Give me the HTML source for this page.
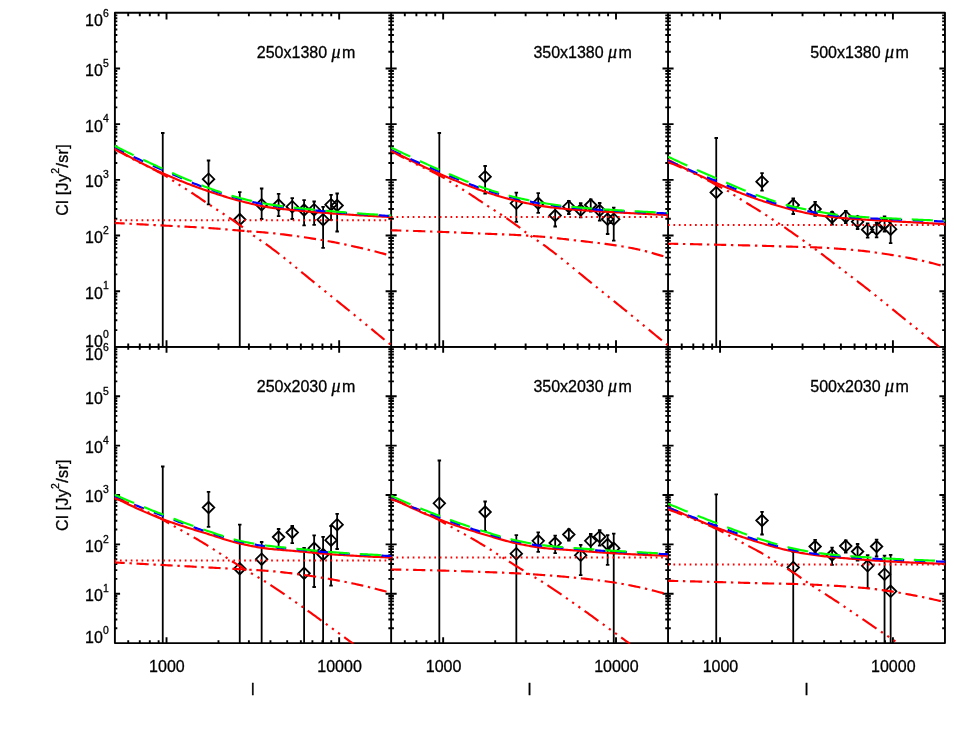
<!DOCTYPE html>
<html><head><meta charset="utf-8"><title>Cl cross spectra</title>
<style>html,body{margin:0;padding:0;background:#fff}body{width:954px;height:740px;overflow:hidden}</style>
</head><body>
<svg width="954" height="740" viewBox="0 0 954 740" style="display:block;will-change:transform">
<rect width="954" height="740" fill="#fff"/>
<defs>
<clipPath id="cp00"><rect x="114.55" y="12.8" width="277.18" height="334.65"/></clipPath>
<clipPath id="cp01"><rect x="391.13" y="12.8" width="277.51" height="334.65"/></clipPath>
<clipPath id="cp02"><rect x="668.04" y="12.8" width="277.51" height="334.65"/></clipPath>
<clipPath id="cp10"><rect x="114.55" y="346.85" width="277.18" height="296.85"/></clipPath>
<clipPath id="cp11"><rect x="391.13" y="346.85" width="277.51" height="296.85"/></clipPath>
<clipPath id="cp12"><rect x="668.04" y="346.85" width="277.51" height="296.85"/></clipPath>
</defs>
<g stroke="#000" stroke-width="1.9" fill="none" stroke-linecap="butt">
<rect x="114.9" y="12.8" width="830.05" height="334.05" stroke-linejoin="round"/>
<path d="M391.13 12.8 V346.85"/>
<path d="M668.04 12.8 V346.85"/>
<rect x="114.9" y="346.85" width="830.05" height="296.25" stroke-linejoin="round"/>
<path d="M391.13 346.85 V643.1"/>
<path d="M668.04 346.85 V643.1"/>
<path d="M128.22 346.85v-3.34M128.22 12.8v3.34M139.78 346.85v-3.34M139.78 12.8v3.34M149.79 346.85v-3.34M149.79 12.8v3.34M158.62 346.85v-3.34M158.62 12.8v3.34M166.52 346.85v-6.68M166.52 12.8v6.68M218.49 346.85v-3.34M218.49 12.8v3.34M248.89 346.85v-3.34M248.89 12.8v3.34M270.46 346.85v-3.34M270.46 12.8v3.34M287.19 346.85v-3.34M287.19 12.8v3.34M300.86 346.85v-3.34M300.86 12.8v3.34M312.42 346.85v-3.34M312.42 12.8v3.34M322.43 346.85v-3.34M322.43 12.8v3.34M331.26 346.85v-3.34M331.26 12.8v3.34M339.16 346.85v-6.68M339.16 12.8v6.68M114.55 330.09h2.77M391.13 330.09h-2.77M114.55 320.29h2.77M391.13 320.29h-2.77M114.55 313.33h2.77M391.13 313.33h-2.77M114.55 307.93h2.77M391.13 307.93h-2.77M114.55 303.53h2.77M391.13 303.53h-2.77M114.55 299.8h2.77M391.13 299.8h-2.77M114.55 296.57h2.77M391.13 296.57h-2.77M114.55 293.72h2.77M391.13 293.72h-2.77M114.55 291.18h5.53M391.13 291.18h-5.53M114.55 274.42h2.77M391.13 274.42h-2.77M114.55 264.61h2.77M391.13 264.61h-2.77M114.55 257.66h2.77M391.13 257.66h-2.77M114.55 252.26h2.77M391.13 252.26h-2.77M114.55 247.85h2.77M391.13 247.85h-2.77M114.55 244.12h2.77M391.13 244.12h-2.77M114.55 240.9h2.77M391.13 240.9h-2.77M114.55 238.05h2.77M391.13 238.05h-2.77M114.55 235.5h5.53M391.13 235.5h-5.53M114.55 218.74h2.77M391.13 218.74h-2.77M114.55 208.94h2.77M391.13 208.94h-2.77M114.55 201.98h2.77M391.13 201.98h-2.77M114.55 196.58h2.77M391.13 196.58h-2.77M114.55 192.18h2.77M391.13 192.18h-2.77M114.55 188.45h2.77M391.13 188.45h-2.77M114.55 185.22h2.77M391.13 185.22h-2.77M114.55 182.37h2.77M391.13 182.37h-2.77M114.55 179.83h5.53M391.13 179.83h-5.53M114.55 163.07h2.77M391.13 163.07h-2.77M114.55 153.26h2.77M391.13 153.26h-2.77M114.55 146.31h2.77M391.13 146.31h-2.77M114.55 140.91h2.77M391.13 140.91h-2.77M114.55 136.5h2.77M391.13 136.5h-2.77M114.55 132.77h2.77M391.13 132.77h-2.77M114.55 129.55h2.77M391.13 129.55h-2.77M114.55 126.7h2.77M391.13 126.7h-2.77M114.55 124.15h5.53M391.13 124.15h-5.53M114.55 107.39h2.77M391.13 107.39h-2.77M114.55 97.59h2.77M391.13 97.59h-2.77M114.55 90.63h2.77M391.13 90.63h-2.77M114.55 85.23h2.77M391.13 85.23h-2.77M114.55 80.83h2.77M391.13 80.83h-2.77M114.55 77.1h2.77M391.13 77.1h-2.77M114.55 73.87h2.77M391.13 73.87h-2.77M114.55 71.02h2.77M391.13 71.02h-2.77M114.55 68.48h5.53M391.13 68.48h-5.53M114.55 51.72h2.77M391.13 51.72h-2.77M114.55 41.91h2.77M391.13 41.91h-2.77M114.55 34.96h2.77M391.13 34.96h-2.77M114.55 29.56h2.77M391.13 29.56h-2.77M114.55 25.15h2.77M391.13 25.15h-2.77M114.55 21.42h2.77M391.13 21.42h-2.77M114.55 18.2h2.77M391.13 18.2h-2.77M114.55 15.35h2.77M391.13 15.35h-2.77M404.82 346.85v-3.34M404.82 12.8v3.34M416.39 346.85v-3.34M416.39 12.8v3.34M426.41 346.85v-3.34M426.41 12.8v3.34M435.25 346.85v-3.34M435.25 12.8v3.34M443.16 346.85v-6.68M443.16 12.8v6.68M495.19 346.85v-3.34M495.19 12.8v3.34M525.63 346.85v-3.34M525.63 12.8v3.34M547.23 346.85v-3.34M547.23 12.8v3.34M563.98 346.85v-3.34M563.98 12.8v3.34M577.66 346.85v-3.34M577.66 12.8v3.34M589.23 346.85v-3.34M589.23 12.8v3.34M599.26 346.85v-3.34M599.26 12.8v3.34M608.1 346.85v-3.34M608.1 12.8v3.34M616.01 346.85v-6.68M616.01 12.8v6.68M391.13 330.09h2.77M668.04 330.09h-2.77M391.13 320.29h2.77M668.04 320.29h-2.77M391.13 313.33h2.77M668.04 313.33h-2.77M391.13 307.93h2.77M668.04 307.93h-2.77M391.13 303.53h2.77M668.04 303.53h-2.77M391.13 299.8h2.77M668.04 299.8h-2.77M391.13 296.57h2.77M668.04 296.57h-2.77M391.13 293.72h2.77M668.04 293.72h-2.77M391.13 291.18h5.54M668.04 291.18h-5.54M391.13 274.42h2.77M668.04 274.42h-2.77M391.13 264.61h2.77M668.04 264.61h-2.77M391.13 257.66h2.77M668.04 257.66h-2.77M391.13 252.26h2.77M668.04 252.26h-2.77M391.13 247.85h2.77M668.04 247.85h-2.77M391.13 244.12h2.77M668.04 244.12h-2.77M391.13 240.9h2.77M668.04 240.9h-2.77M391.13 238.05h2.77M668.04 238.05h-2.77M391.13 235.5h5.54M668.04 235.5h-5.54M391.13 218.74h2.77M668.04 218.74h-2.77M391.13 208.94h2.77M668.04 208.94h-2.77M391.13 201.98h2.77M668.04 201.98h-2.77M391.13 196.58h2.77M668.04 196.58h-2.77M391.13 192.18h2.77M668.04 192.18h-2.77M391.13 188.45h2.77M668.04 188.45h-2.77M391.13 185.22h2.77M668.04 185.22h-2.77M391.13 182.37h2.77M668.04 182.37h-2.77M391.13 179.83h5.54M668.04 179.83h-5.54M391.13 163.07h2.77M668.04 163.07h-2.77M391.13 153.26h2.77M668.04 153.26h-2.77M391.13 146.31h2.77M668.04 146.31h-2.77M391.13 140.91h2.77M668.04 140.91h-2.77M391.13 136.5h2.77M668.04 136.5h-2.77M391.13 132.77h2.77M668.04 132.77h-2.77M391.13 129.55h2.77M668.04 129.55h-2.77M391.13 126.7h2.77M668.04 126.7h-2.77M391.13 124.15h5.54M668.04 124.15h-5.54M391.13 107.39h2.77M668.04 107.39h-2.77M391.13 97.59h2.77M668.04 97.59h-2.77M391.13 90.63h2.77M668.04 90.63h-2.77M391.13 85.23h2.77M668.04 85.23h-2.77M391.13 80.83h2.77M668.04 80.83h-2.77M391.13 77.1h2.77M668.04 77.1h-2.77M391.13 73.87h2.77M668.04 73.87h-2.77M391.13 71.02h2.77M668.04 71.02h-2.77M391.13 68.48h5.54M668.04 68.48h-5.54M391.13 51.72h2.77M668.04 51.72h-2.77M391.13 41.91h2.77M668.04 41.91h-2.77M391.13 34.96h2.77M668.04 34.96h-2.77M391.13 29.56h2.77M668.04 29.56h-2.77M391.13 25.15h2.77M668.04 25.15h-2.77M391.13 21.42h2.77M668.04 21.42h-2.77M391.13 18.2h2.77M668.04 18.2h-2.77M391.13 15.35h2.77M668.04 15.35h-2.77M681.73 346.85v-3.34M681.73 12.8v3.34M693.3 346.85v-3.34M693.3 12.8v3.34M703.32 346.85v-3.34M703.32 12.8v3.34M712.16 346.85v-3.34M712.16 12.8v3.34M720.07 346.85v-6.68M720.07 12.8v6.68M772.1 346.85v-3.34M772.1 12.8v3.34M802.54 346.85v-3.34M802.54 12.8v3.34M824.14 346.85v-3.34M824.14 12.8v3.34M840.89 346.85v-3.34M840.89 12.8v3.34M854.57 346.85v-3.34M854.57 12.8v3.34M866.14 346.85v-3.34M866.14 12.8v3.34M876.17 346.85v-3.34M876.17 12.8v3.34M885.01 346.85v-3.34M885.01 12.8v3.34M892.92 346.85v-6.68M892.92 12.8v6.68M668.04 330.09h2.77M944.95 330.09h-2.77M668.04 320.29h2.77M944.95 320.29h-2.77M668.04 313.33h2.77M944.95 313.33h-2.77M668.04 307.93h2.77M944.95 307.93h-2.77M668.04 303.53h2.77M944.95 303.53h-2.77M668.04 299.8h2.77M944.95 299.8h-2.77M668.04 296.57h2.77M944.95 296.57h-2.77M668.04 293.72h2.77M944.95 293.72h-2.77M668.04 291.18h5.54M944.95 291.18h-5.54M668.04 274.42h2.77M944.95 274.42h-2.77M668.04 264.61h2.77M944.95 264.61h-2.77M668.04 257.66h2.77M944.95 257.66h-2.77M668.04 252.26h2.77M944.95 252.26h-2.77M668.04 247.85h2.77M944.95 247.85h-2.77M668.04 244.12h2.77M944.95 244.12h-2.77M668.04 240.9h2.77M944.95 240.9h-2.77M668.04 238.05h2.77M944.95 238.05h-2.77M668.04 235.5h5.54M944.95 235.5h-5.54M668.04 218.74h2.77M944.95 218.74h-2.77M668.04 208.94h2.77M944.95 208.94h-2.77M668.04 201.98h2.77M944.95 201.98h-2.77M668.04 196.58h2.77M944.95 196.58h-2.77M668.04 192.18h2.77M944.95 192.18h-2.77M668.04 188.45h2.77M944.95 188.45h-2.77M668.04 185.22h2.77M944.95 185.22h-2.77M668.04 182.37h2.77M944.95 182.37h-2.77M668.04 179.83h5.54M944.95 179.83h-5.54M668.04 163.07h2.77M944.95 163.07h-2.77M668.04 153.26h2.77M944.95 153.26h-2.77M668.04 146.31h2.77M944.95 146.31h-2.77M668.04 140.91h2.77M944.95 140.91h-2.77M668.04 136.5h2.77M944.95 136.5h-2.77M668.04 132.77h2.77M944.95 132.77h-2.77M668.04 129.55h2.77M944.95 129.55h-2.77M668.04 126.7h2.77M944.95 126.7h-2.77M668.04 124.15h5.54M944.95 124.15h-5.54M668.04 107.39h2.77M944.95 107.39h-2.77M668.04 97.59h2.77M944.95 97.59h-2.77M668.04 90.63h2.77M944.95 90.63h-2.77M668.04 85.23h2.77M944.95 85.23h-2.77M668.04 80.83h2.77M944.95 80.83h-2.77M668.04 77.1h2.77M944.95 77.1h-2.77M668.04 73.87h2.77M944.95 73.87h-2.77M668.04 71.02h2.77M944.95 71.02h-2.77M668.04 68.48h5.54M944.95 68.48h-5.54M668.04 51.72h2.77M944.95 51.72h-2.77M668.04 41.91h2.77M944.95 41.91h-2.77M668.04 34.96h2.77M944.95 34.96h-2.77M668.04 29.56h2.77M944.95 29.56h-2.77M668.04 25.15h2.77M944.95 25.15h-2.77M668.04 21.42h2.77M944.95 21.42h-2.77M668.04 18.2h2.77M944.95 18.2h-2.77M668.04 15.35h2.77M944.95 15.35h-2.77M128.22 643.1v-2.96M128.22 346.85v2.96M139.78 643.1v-2.96M139.78 346.85v2.96M149.79 643.1v-2.96M149.79 346.85v2.96M158.62 643.1v-2.96M158.62 346.85v2.96M166.52 643.1v-5.92M166.52 346.85v5.92M218.49 643.1v-2.96M218.49 346.85v2.96M248.89 643.1v-2.96M248.89 346.85v2.96M270.46 643.1v-2.96M270.46 346.85v2.96M287.19 643.1v-2.96M287.19 346.85v2.96M300.86 643.1v-2.96M300.86 346.85v2.96M312.42 643.1v-2.96M312.42 346.85v2.96M322.43 643.1v-2.96M322.43 346.85v2.96M331.26 643.1v-2.96M331.26 346.85v2.96M339.16 643.1v-5.92M339.16 346.85v5.92M114.55 628.24h2.77M391.13 628.24h-2.77M114.55 619.54h2.77M391.13 619.54h-2.77M114.55 613.37h2.77M391.13 613.37h-2.77M114.55 608.59h2.77M391.13 608.59h-2.77M114.55 604.68h2.77M391.13 604.68h-2.77M114.55 601.37h2.77M391.13 601.37h-2.77M114.55 598.51h2.77M391.13 598.51h-2.77M114.55 595.98h2.77M391.13 595.98h-2.77M114.55 593.73h5.53M391.13 593.73h-5.53M114.55 578.86h2.77M391.13 578.86h-2.77M114.55 570.17h2.77M391.13 570.17h-2.77M114.55 564h2.77M391.13 564h-2.77M114.55 559.21h2.77M391.13 559.21h-2.77M114.55 555.3h2.77M391.13 555.3h-2.77M114.55 552h2.77M391.13 552h-2.77M114.55 549.13h2.77M391.13 549.13h-2.77M114.55 546.61h2.77M391.13 546.61h-2.77M114.55 544.35h5.53M391.13 544.35h-5.53M114.55 529.49h2.77M391.13 529.49h-2.77M114.55 520.79h2.77M391.13 520.79h-2.77M114.55 514.62h2.77M391.13 514.62h-2.77M114.55 509.84h2.77M391.13 509.84h-2.77M114.55 505.93h2.77M391.13 505.93h-2.77M114.55 502.62h2.77M391.13 502.62h-2.77M114.55 499.76h2.77M391.13 499.76h-2.77M114.55 497.23h2.77M391.13 497.23h-2.77M114.55 494.98h5.53M391.13 494.98h-5.53M114.55 480.11h2.77M391.13 480.11h-2.77M114.55 471.42h2.77M391.13 471.42h-2.77M114.55 465.25h2.77M391.13 465.25h-2.77M114.55 460.46h2.77M391.13 460.46h-2.77M114.55 456.55h2.77M391.13 456.55h-2.77M114.55 453.25h2.77M391.13 453.25h-2.77M114.55 450.38h2.77M391.13 450.38h-2.77M114.55 447.86h2.77M391.13 447.86h-2.77M114.55 445.6h5.53M391.13 445.6h-5.53M114.55 430.74h2.77M391.13 430.74h-2.77M114.55 422.04h2.77M391.13 422.04h-2.77M114.55 415.87h2.77M391.13 415.87h-2.77M114.55 411.09h2.77M391.13 411.09h-2.77M114.55 407.18h2.77M391.13 407.18h-2.77M114.55 403.87h2.77M391.13 403.87h-2.77M114.55 401.01h2.77M391.13 401.01h-2.77M114.55 398.48h2.77M391.13 398.48h-2.77M114.55 396.23h5.53M391.13 396.23h-5.53M114.55 381.36h2.77M391.13 381.36h-2.77M114.55 372.67h2.77M391.13 372.67h-2.77M114.55 366.5h2.77M391.13 366.5h-2.77M114.55 361.71h2.77M391.13 361.71h-2.77M114.55 357.8h2.77M391.13 357.8h-2.77M114.55 354.5h2.77M391.13 354.5h-2.77M114.55 351.63h2.77M391.13 351.63h-2.77M114.55 349.11h2.77M391.13 349.11h-2.77M404.82 643.1v-2.96M404.82 346.85v2.96M416.39 643.1v-2.96M416.39 346.85v2.96M426.41 643.1v-2.96M426.41 346.85v2.96M435.25 643.1v-2.96M435.25 346.85v2.96M443.16 643.1v-5.92M443.16 346.85v5.92M495.19 643.1v-2.96M495.19 346.85v2.96M525.63 643.1v-2.96M525.63 346.85v2.96M547.23 643.1v-2.96M547.23 346.85v2.96M563.98 643.1v-2.96M563.98 346.85v2.96M577.66 643.1v-2.96M577.66 346.85v2.96M589.23 643.1v-2.96M589.23 346.85v2.96M599.26 643.1v-2.96M599.26 346.85v2.96M608.1 643.1v-2.96M608.1 346.85v2.96M616.01 643.1v-5.92M616.01 346.85v5.92M391.13 628.24h2.77M668.04 628.24h-2.77M391.13 619.54h2.77M668.04 619.54h-2.77M391.13 613.37h2.77M668.04 613.37h-2.77M391.13 608.59h2.77M668.04 608.59h-2.77M391.13 604.68h2.77M668.04 604.68h-2.77M391.13 601.37h2.77M668.04 601.37h-2.77M391.13 598.51h2.77M668.04 598.51h-2.77M391.13 595.98h2.77M668.04 595.98h-2.77M391.13 593.73h5.54M668.04 593.73h-5.54M391.13 578.86h2.77M668.04 578.86h-2.77M391.13 570.17h2.77M668.04 570.17h-2.77M391.13 564h2.77M668.04 564h-2.77M391.13 559.21h2.77M668.04 559.21h-2.77M391.13 555.3h2.77M668.04 555.3h-2.77M391.13 552h2.77M668.04 552h-2.77M391.13 549.13h2.77M668.04 549.13h-2.77M391.13 546.61h2.77M668.04 546.61h-2.77M391.13 544.35h5.54M668.04 544.35h-5.54M391.13 529.49h2.77M668.04 529.49h-2.77M391.13 520.79h2.77M668.04 520.79h-2.77M391.13 514.62h2.77M668.04 514.62h-2.77M391.13 509.84h2.77M668.04 509.84h-2.77M391.13 505.93h2.77M668.04 505.93h-2.77M391.13 502.62h2.77M668.04 502.62h-2.77M391.13 499.76h2.77M668.04 499.76h-2.77M391.13 497.23h2.77M668.04 497.23h-2.77M391.13 494.98h5.54M668.04 494.98h-5.54M391.13 480.11h2.77M668.04 480.11h-2.77M391.13 471.42h2.77M668.04 471.42h-2.77M391.13 465.25h2.77M668.04 465.25h-2.77M391.13 460.46h2.77M668.04 460.46h-2.77M391.13 456.55h2.77M668.04 456.55h-2.77M391.13 453.25h2.77M668.04 453.25h-2.77M391.13 450.38h2.77M668.04 450.38h-2.77M391.13 447.86h2.77M668.04 447.86h-2.77M391.13 445.6h5.54M668.04 445.6h-5.54M391.13 430.74h2.77M668.04 430.74h-2.77M391.13 422.04h2.77M668.04 422.04h-2.77M391.13 415.87h2.77M668.04 415.87h-2.77M391.13 411.09h2.77M668.04 411.09h-2.77M391.13 407.18h2.77M668.04 407.18h-2.77M391.13 403.87h2.77M668.04 403.87h-2.77M391.13 401.01h2.77M668.04 401.01h-2.77M391.13 398.48h2.77M668.04 398.48h-2.77M391.13 396.23h5.54M668.04 396.23h-5.54M391.13 381.36h2.77M668.04 381.36h-2.77M391.13 372.67h2.77M668.04 372.67h-2.77M391.13 366.5h2.77M668.04 366.5h-2.77M391.13 361.71h2.77M668.04 361.71h-2.77M391.13 357.8h2.77M668.04 357.8h-2.77M391.13 354.5h2.77M668.04 354.5h-2.77M391.13 351.63h2.77M668.04 351.63h-2.77M391.13 349.11h2.77M668.04 349.11h-2.77M681.73 643.1v-2.96M681.73 346.85v2.96M693.3 643.1v-2.96M693.3 346.85v2.96M703.32 643.1v-2.96M703.32 346.85v2.96M712.16 643.1v-2.96M712.16 346.85v2.96M720.07 643.1v-5.92M720.07 346.85v5.92M772.1 643.1v-2.96M772.1 346.85v2.96M802.54 643.1v-2.96M802.54 346.85v2.96M824.14 643.1v-2.96M824.14 346.85v2.96M840.89 643.1v-2.96M840.89 346.85v2.96M854.57 643.1v-2.96M854.57 346.85v2.96M866.14 643.1v-2.96M866.14 346.85v2.96M876.17 643.1v-2.96M876.17 346.85v2.96M885.01 643.1v-2.96M885.01 346.85v2.96M892.92 643.1v-5.92M892.92 346.85v5.92M668.04 628.24h2.77M944.95 628.24h-2.77M668.04 619.54h2.77M944.95 619.54h-2.77M668.04 613.37h2.77M944.95 613.37h-2.77M668.04 608.59h2.77M944.95 608.59h-2.77M668.04 604.68h2.77M944.95 604.68h-2.77M668.04 601.37h2.77M944.95 601.37h-2.77M668.04 598.51h2.77M944.95 598.51h-2.77M668.04 595.98h2.77M944.95 595.98h-2.77M668.04 593.73h5.54M944.95 593.73h-5.54M668.04 578.86h2.77M944.95 578.86h-2.77M668.04 570.17h2.77M944.95 570.17h-2.77M668.04 564h2.77M944.95 564h-2.77M668.04 559.21h2.77M944.95 559.21h-2.77M668.04 555.3h2.77M944.95 555.3h-2.77M668.04 552h2.77M944.95 552h-2.77M668.04 549.13h2.77M944.95 549.13h-2.77M668.04 546.61h2.77M944.95 546.61h-2.77M668.04 544.35h5.54M944.95 544.35h-5.54M668.04 529.49h2.77M944.95 529.49h-2.77M668.04 520.79h2.77M944.95 520.79h-2.77M668.04 514.62h2.77M944.95 514.62h-2.77M668.04 509.84h2.77M944.95 509.84h-2.77M668.04 505.93h2.77M944.95 505.93h-2.77M668.04 502.62h2.77M944.95 502.62h-2.77M668.04 499.76h2.77M944.95 499.76h-2.77M668.04 497.23h2.77M944.95 497.23h-2.77M668.04 494.98h5.54M944.95 494.98h-5.54M668.04 480.11h2.77M944.95 480.11h-2.77M668.04 471.42h2.77M944.95 471.42h-2.77M668.04 465.25h2.77M944.95 465.25h-2.77M668.04 460.46h2.77M944.95 460.46h-2.77M668.04 456.55h2.77M944.95 456.55h-2.77M668.04 453.25h2.77M944.95 453.25h-2.77M668.04 450.38h2.77M944.95 450.38h-2.77M668.04 447.86h2.77M944.95 447.86h-2.77M668.04 445.6h5.54M944.95 445.6h-5.54M668.04 430.74h2.77M944.95 430.74h-2.77M668.04 422.04h2.77M944.95 422.04h-2.77M668.04 415.87h2.77M944.95 415.87h-2.77M668.04 411.09h2.77M944.95 411.09h-2.77M668.04 407.18h2.77M944.95 407.18h-2.77M668.04 403.87h2.77M944.95 403.87h-2.77M668.04 401.01h2.77M944.95 401.01h-2.77M668.04 398.48h2.77M944.95 398.48h-2.77M668.04 396.23h5.54M944.95 396.23h-5.54M668.04 381.36h2.77M944.95 381.36h-2.77M668.04 372.67h2.77M944.95 372.67h-2.77M668.04 366.5h2.77M944.95 366.5h-2.77M668.04 361.71h2.77M944.95 361.71h-2.77M668.04 357.8h2.77M944.95 357.8h-2.77M668.04 354.5h2.77M944.95 354.5h-2.77M668.04 351.63h2.77M944.95 351.63h-2.77M668.04 349.11h2.77M944.95 349.11h-2.77"/>
</g>
<g clip-path="url(#cp00)" stroke="#000" fill="none">
<path stroke-width="1.8" d="M162.75 132.8V346.85M161 133h3.5M208.55 160.3V204.5M206.8 160.5h3.5M206.8 204.3h3.5M239.75 192V346.85M238 192.2h3.5M261.65 188.3V219.2M259.9 188.5h3.5M259.9 219h3.5M278.6 193.7V216.3M276.85 193.9h3.5M276.85 216.1h3.5M292.25 198V219.2M290.5 198.2h3.5M290.5 219h3.5M304.1 200V225.5M302.35 200.2h3.5M302.35 225.3h3.5M314.15 201.3V225M312.4 201.5h3.5M312.4 224.8h3.5M323.1 206.7V248M321.35 206.9h3.5M321.35 247.8h3.5M331.05 194.7V220M329.3 194.9h3.5M329.3 219.8h3.5M337.15 193.3V231.7M335.4 193.5h3.5M335.4 231.5h3.5"/>
<path stroke-width="1.8" stroke-linejoin="miter" d="M202.8 179.2L208.55 173.45L214.3 179.2L208.55 184.95ZM234 219.5L239.75 213.75L245.5 219.5L239.75 225.25ZM255.9 204.7L261.65 198.95L267.4 204.7L261.65 210.45ZM272.85 205L278.6 199.25L284.35 205L278.6 210.75ZM286.5 206.7L292.25 200.95L298 206.7L292.25 212.45ZM298.35 210L304.1 204.25L309.85 210L304.1 215.75ZM308.4 209.7L314.15 203.95L319.9 209.7L314.15 215.45ZM317.35 219.7L323.1 213.95L328.85 219.7L323.1 225.45ZM325.3 204.7L331.05 198.95L336.8 204.7L331.05 210.45ZM331.4 205.5L337.15 199.75L342.9 205.5L337.15 211.25Z"/>
</g>
<g clip-path="url(#cp01)" stroke="#000" fill="none">
<path stroke-width="1.8" d="M439.33 132.8V346.85M437.58 133h3.5M485.13 165.8V193.7M483.38 166h3.5M483.38 193.5h3.5M516.33 192.5V222M514.58 192.7h3.5M514.58 221.8h3.5M538.23 193V213M536.48 193.2h3.5M536.48 212.8h3.5M555.18 206.5V226.7M553.43 206.7h3.5M553.43 226.5h3.5M568.83 200.8V214.2M567.08 201h3.5M567.08 214h3.5M580.68 203V217.5M578.93 203.2h3.5M578.93 217.3h3.5M590.73 199.2V211.7M588.98 199.4h3.5M588.98 211.5h3.5M599.68 202.8V220.8M597.93 203h3.5M597.93 220.6h3.5M607.63 210.8V234.2M605.88 211h3.5M605.88 234h3.5M613.73 207.5V240.8M611.98 207.7h3.5M611.98 240.6h3.5"/>
<path stroke-width="1.8" stroke-linejoin="miter" d="M479.38 176.7L485.13 170.95L490.88 176.7L485.13 182.45ZM510.58 203.3L516.33 197.55L522.08 203.3L516.33 209.05ZM532.48 203.3L538.23 197.55L543.98 203.3L538.23 209.05ZM549.43 215.5L555.18 209.75L560.93 215.5L555.18 221.25ZM563.08 206.7L568.83 200.95L574.58 206.7L568.83 212.45ZM574.93 210L580.68 204.25L586.43 210L580.68 215.75ZM584.98 205L590.73 199.25L596.48 205L590.73 210.75ZM593.93 210.5L599.68 204.75L605.43 210.5L599.68 216.25ZM601.88 219.2L607.63 213.45L613.38 219.2L607.63 224.95ZM607.98 219.2L613.73 213.45L619.48 219.2L613.73 224.95Z"/>
</g>
<g clip-path="url(#cp02)" stroke="#000" fill="none">
<path stroke-width="1.8" d="M716.24 137.8V346.85M714.49 138h3.5M762.04 173V190.8M760.29 173.2h3.5M760.29 190.6h3.5M793.24 198.3V214.2M791.49 198.5h3.5M791.49 214h3.5M815.14 201.7V216M813.39 201.9h3.5M813.39 215.8h3.5M832.09 211.7V224.7M830.34 211.9h3.5M830.34 224.5h3.5M845.74 210.8V223.3M843.99 211h3.5M843.99 223.1h3.5M857.59 216.3V229.2M855.84 216.5h3.5M855.84 229h3.5M867.64 223.3V237.8M865.89 223.5h3.5M865.89 237.6h3.5M876.59 222.5V237.5M874.84 222.7h3.5M874.84 237.3h3.5M884.54 216.3V231.7M882.79 216.5h3.5M882.79 231.5h3.5M890.64 219.7V243.3M888.89 219.9h3.5M888.89 243.1h3.5"/>
<path stroke-width="1.8" stroke-linejoin="miter" d="M710.49 192.5L716.24 186.75L721.99 192.5L716.24 198.25ZM756.29 181.7L762.04 175.95L767.79 181.7L762.04 187.45ZM787.49 205L793.24 199.25L798.99 205L793.24 210.75ZM809.39 209L815.14 203.25L820.89 209L815.14 214.75ZM826.34 217.2L832.09 211.45L837.84 217.2L832.09 222.95ZM839.99 216.7L845.74 210.95L851.49 216.7L845.74 222.45ZM851.84 221.7L857.59 215.95L863.34 221.7L857.59 227.45ZM861.89 229.7L867.64 223.95L873.39 229.7L867.64 235.45ZM870.84 229.2L876.59 223.45L882.34 229.2L876.59 234.95ZM878.79 223.3L884.54 217.55L890.29 223.3L884.54 229.05ZM884.89 229.2L890.64 223.45L896.39 229.2L890.64 234.95Z"/>
</g>
<g clip-path="url(#cp10)" stroke="#000" fill="none">
<path stroke-width="1.8" d="M162.75 466.3V643.1M161 466.5h3.5M208.55 491.7V527M206.8 491.9h3.5M206.8 526.8h3.5M239.75 524.5V643.1M238 524.7h3.5M261.65 541.8V643.1M259.9 542h3.5M278.6 528.8V549.2M276.85 529h3.5M276.85 549h3.5M292.25 525.8V543.3M290.5 526h3.5M290.5 543.1h3.5M304.1 547.8V643.1M302.35 548h3.5M314.15 535.2V587.2M312.4 535.4h3.5M312.4 587h3.5M323.1 536.7V643.1M321.35 536.9h3.5M331.05 525.8V585.8M329.3 526h3.5M329.3 585.6h3.5M337.15 513.7V549.2M335.4 513.9h3.5M335.4 549h3.5"/>
<path stroke-width="1.8" stroke-linejoin="miter" d="M202.8 507.5L208.55 501.75L214.3 507.5L208.55 513.25ZM234 568.7L239.75 562.95L245.5 568.7L239.75 574.45ZM255.9 559.2L261.65 553.45L267.4 559.2L261.65 564.95ZM272.85 537L278.6 531.25L284.35 537L278.6 542.75ZM286.5 532.5L292.25 526.75L298 532.5L292.25 538.25ZM298.35 573.3L304.1 567.55L309.85 573.3L304.1 579.05ZM308.4 548.3L314.15 542.55L319.9 548.3L314.15 554.05ZM317.35 554.5L323.1 548.75L328.85 554.5L323.1 560.25ZM325.3 540.2L331.05 534.45L336.8 540.2L331.05 545.95ZM331.4 524.7L337.15 518.95L342.9 524.7L337.15 530.45Z"/>
</g>
<g clip-path="url(#cp11)" stroke="#000" fill="none">
<path stroke-width="1.8" d="M439.33 460.3V643.1M437.58 460.5h3.5M485.13 501.3V531.3M483.38 501.5h3.5M483.38 531.1h3.5M516.33 535V643.1M514.58 535.2h3.5M538.23 532.2V552M536.48 532.4h3.5M536.48 551.8h3.5M555.18 535.5V553.3M553.43 535.7h3.5M553.43 553.1h3.5M568.83 529.2V540.8M567.08 529.4h3.5M567.08 540.6h3.5M580.68 544.7V575.3M578.93 544.9h3.5M578.93 575.1h3.5M590.73 533.8V550M588.98 534h3.5M588.98 549.8h3.5M599.68 530V545.8M597.93 530.2h3.5M597.93 545.6h3.5M607.63 535V565M605.88 535.2h3.5M605.88 564.8h3.5M613.73 533.5V643.1M611.98 533.7h3.5"/>
<path stroke-width="1.8" stroke-linejoin="miter" d="M433.58 503.3L439.33 497.55L445.08 503.3L439.33 509.05ZM479.38 512L485.13 506.25L490.88 512L485.13 517.75ZM510.58 553.7L516.33 547.95L522.08 553.7L516.33 559.45ZM532.48 540.8L538.23 535.05L543.98 540.8L538.23 546.55ZM549.43 543L555.18 537.25L560.93 543L555.18 548.75ZM563.08 534.5L568.83 528.75L574.58 534.5L568.83 540.25ZM574.93 555.3L580.68 549.55L586.43 555.3L580.68 561.05ZM584.98 540.8L590.73 535.05L596.48 540.8L590.73 546.55ZM593.93 536.7L599.68 530.95L605.43 536.7L599.68 542.45ZM601.88 544.5L607.63 538.75L613.38 544.5L607.63 550.25ZM607.98 548.2L613.73 542.45L619.48 548.2L613.73 553.95Z"/>
</g>
<g clip-path="url(#cp12)" stroke="#000" fill="none">
<path stroke-width="1.8" d="M716.24 494.2V643.1M714.49 494.4h3.5M762.04 511.7V534.7M760.29 511.9h3.5M760.29 534.5h3.5M793.24 551.7V643.1M791.49 551.9h3.5M815.14 539.7V553.3M813.39 539.9h3.5M813.39 553.1h3.5M832.09 547.5V565M830.34 547.7h3.5M830.34 564.8h3.5M845.74 540.2V552.7M843.99 540.4h3.5M843.99 552.5h3.5M857.59 543.8V560.8M855.84 544h3.5M855.84 560.6h3.5M867.64 555V588.3M865.89 555.2h3.5M865.89 588.1h3.5M876.59 539.4V556.7M874.84 539.6h3.5M874.84 556.5h3.5M884.54 555.5V643.1M882.79 555.7h3.5M890.64 554.7V643.1M888.89 554.9h3.5"/>
<path stroke-width="1.8" stroke-linejoin="miter" d="M756.29 520.5L762.04 514.75L767.79 520.5L762.04 526.25ZM787.49 567.5L793.24 561.75L798.99 567.5L793.24 573.25ZM809.39 546.5L815.14 540.75L820.89 546.5L815.14 552.25ZM826.34 555L832.09 549.25L837.84 555L832.09 560.75ZM839.99 546L845.74 540.25L851.49 546L845.74 551.75ZM851.84 551.5L857.59 545.75L863.34 551.5L857.59 557.25ZM861.89 565.8L867.64 560.05L873.39 565.8L867.64 571.55ZM870.84 546.5L876.59 540.75L882.34 546.5L876.59 552.25ZM878.79 574.2L884.54 568.45L890.29 574.2L884.54 579.95ZM884.89 591.3L890.64 585.55L896.39 591.3L890.64 597.05Z"/>
</g>
<g clip-path="url(#cp00)" fill="none" stroke-width="2.15">
<path stroke="#ff0000" d="M114.55 148.3 L116.29 149.31 L118.03 150.32 L119.77 151.32 L121.51 152.31 L123.25 153.29 L124.99 154.27 L126.73 155.24 L128.47 156.2 L130.21 157.15 L131.94 158.09 L133.68 159.03 L135.42 159.95 L137.16 160.87 L138.9 161.78 L140.64 162.68 L142.38 163.57 L144.12 164.46 L145.86 165.33 L147.6 166.2 L149.34 167.05 L151.08 167.9 L152.82 168.73 L154.56 169.56 L156.3 170.38 L158.04 171.19 L159.78 171.98 L161.52 172.77 L163.26 173.55 L165 174.32 L166.73 175.08 L168.47 175.83 L170.21 176.58 L171.95 177.32 L173.69 178.05 L175.43 178.77 L177.17 179.49 L178.91 180.2 L180.65 180.9 L182.39 181.6 L184.13 182.29 L185.87 182.97 L187.61 183.64 L189.35 184.31 L191.09 184.97 L192.83 185.63 L194.57 186.27 L196.31 186.92 L198.05 187.55 L199.79 188.18 L201.52 188.8 L203.26 189.42 L205 190.03 L206.74 190.63 L208.48 191.23 L210.22 191.82 L211.96 192.4 L213.7 192.99 L215.44 193.56 L217.18 194.13 L218.92 194.7 L220.66 195.26 L222.4 195.81 L224.14 196.35 L225.88 196.89 L227.62 197.41 L229.36 197.93 L231.1 198.44 L232.84 198.94 L234.58 199.43 L236.31 199.9 L238.05 200.37 L239.79 200.82 L241.53 201.27 L243.27 201.72 L245.01 202.17 L246.75 202.61 L248.49 203.05 L250.23 203.48 L251.97 203.9 L253.71 204.31 L255.45 204.71 L257.19 205.1 L258.93 205.48 L260.67 205.84 L262.41 206.18 L264.15 206.51 L265.89 206.81 L267.63 207.1 L269.37 207.36 L271.1 207.61 L272.84 207.85 L274.58 208.07 L276.32 208.29 L278.06 208.5 L279.8 208.7 L281.54 208.89 L283.28 209.08 L285.02 209.26 L286.76 209.44 L288.5 209.62 L290.24 209.79 L291.98 209.97 L293.72 210.14 L295.46 210.31 L297.2 210.48 L298.94 210.65 L300.68 210.81 L302.42 210.98 L304.16 211.14 L305.89 211.3 L307.63 211.45 L309.37 211.61 L311.11 211.76 L312.85 211.91 L314.59 212.06 L316.33 212.21 L318.07 212.35 L319.81 212.5 L321.55 212.64 L323.29 212.78 L325.03 212.91 L326.77 213.05 L328.51 213.18 L330.25 213.31 L331.99 213.44 L333.73 213.57 L335.47 213.69 L337.21 213.81 L338.95 213.94 L340.68 214.06 L342.42 214.18 L344.16 214.29 L345.9 214.41 L347.64 214.53 L349.38 214.64 L351.12 214.76 L352.86 214.87 L354.6 214.98 L356.34 215.09 L358.08 215.2 L359.82 215.31 L361.56 215.42 L363.3 215.52 L365.04 215.63 L366.78 215.73 L368.52 215.83 L370.26 215.93 L372 216.03 L373.74 216.13 L375.47 216.22 L377.21 216.32 L378.95 216.41 L380.69 216.5 L382.43 216.59 L384.17 216.67 L385.91 216.76 L387.65 216.84 L389.39 216.92 L391.13 217"/>
<path stroke="#0000ff" stroke-dasharray="10.6 10.6" d="M114.55 147.7 L116.29 148.55 L118.03 149.4 L119.77 150.25 L121.51 151.09 L123.25 151.93 L124.99 152.76 L126.73 153.6 L128.47 154.43 L130.21 155.25 L131.94 156.08 L133.68 156.9 L135.42 157.71 L137.16 158.53 L138.9 159.34 L140.64 160.14 L142.38 160.95 L144.12 161.75 L145.86 162.54 L147.6 163.34 L149.34 164.13 L151.08 164.91 L152.82 165.69 L154.56 166.47 L156.3 167.25 L158.04 168.02 L159.78 168.79 L161.52 169.55 L163.26 170.31 L165 171.07 L166.73 171.83 L168.47 172.59 L170.21 173.35 L171.95 174.11 L173.69 174.87 L175.43 175.63 L177.17 176.38 L178.91 177.13 L180.65 177.88 L182.39 178.62 L184.13 179.36 L185.87 180.09 L187.61 180.82 L189.35 181.54 L191.09 182.26 L192.83 182.96 L194.57 183.67 L196.31 184.36 L198.05 185.05 L199.79 185.72 L201.52 186.39 L203.26 187.05 L205 187.7 L206.74 188.33 L208.48 188.96 L210.22 189.58 L211.96 190.19 L213.7 190.8 L215.44 191.41 L217.18 192.01 L218.92 192.6 L220.66 193.19 L222.4 193.76 L224.14 194.33 L225.88 194.89 L227.62 195.44 L229.36 195.98 L231.1 196.5 L232.84 197.01 L234.58 197.51 L236.31 197.99 L238.05 198.45 L239.79 198.9 L241.53 199.34 L243.27 199.78 L245.01 200.2 L246.75 200.62 L248.49 201.02 L250.23 201.43 L251.97 201.82 L253.71 202.2 L255.45 202.57 L257.19 202.93 L258.93 203.28 L260.67 203.62 L262.41 203.95 L264.15 204.27 L265.89 204.57 L267.63 204.86 L269.37 205.14 L271.1 205.41 L272.84 205.67 L274.58 205.92 L276.32 206.16 L278.06 206.39 L279.8 206.62 L281.54 206.84 L283.28 207.06 L285.02 207.26 L286.76 207.47 L288.5 207.67 L290.24 207.87 L291.98 208.06 L293.72 208.25 L295.46 208.44 L297.2 208.63 L298.94 208.82 L300.68 209 L302.42 209.18 L304.16 209.35 L305.89 209.53 L307.63 209.7 L309.37 209.87 L311.11 210.04 L312.85 210.2 L314.59 210.37 L316.33 210.53 L318.07 210.69 L319.81 210.84 L321.55 211 L323.29 211.15 L325.03 211.3 L326.77 211.45 L328.51 211.6 L330.25 211.75 L331.99 211.89 L333.73 212.03 L335.47 212.18 L337.21 212.31 L338.95 212.45 L340.68 212.59 L342.42 212.73 L344.16 212.86 L345.9 213 L347.64 213.13 L349.38 213.26 L351.12 213.39 L352.86 213.52 L354.6 213.65 L356.34 213.78 L358.08 213.9 L359.82 214.03 L361.56 214.15 L363.3 214.28 L365.04 214.4 L366.78 214.52 L368.52 214.63 L370.26 214.75 L372 214.86 L373.74 214.98 L375.47 215.09 L377.21 215.2 L378.95 215.31 L380.69 215.42 L382.43 215.52 L384.17 215.62 L385.91 215.73 L387.65 215.83 L389.39 215.93 L391.13 216.02"/>
<path stroke="#00ff00" stroke-dasharray="21.2 10.6" d="M114.55 145.8 L116.29 146.68 L118.03 147.55 L119.77 148.42 L121.51 149.28 L123.25 150.14 L124.99 151 L126.73 151.85 L128.47 152.71 L130.21 153.55 L131.94 154.4 L133.68 155.24 L135.42 156.07 L137.16 156.91 L138.9 157.74 L140.64 158.56 L142.38 159.38 L144.12 160.2 L145.86 161.01 L147.6 161.83 L149.34 162.63 L151.08 163.43 L152.82 164.23 L154.56 165.03 L156.3 165.82 L158.04 166.61 L159.78 167.39 L161.52 168.17 L163.26 168.95 L165 169.72 L166.73 170.5 L168.47 171.27 L170.21 172.05 L171.95 172.82 L173.69 173.59 L175.43 174.36 L177.17 175.13 L178.91 175.89 L180.65 176.65 L182.39 177.41 L184.13 178.16 L185.87 178.91 L187.61 179.65 L189.35 180.38 L191.09 181.11 L192.83 181.83 L194.57 182.54 L196.31 183.25 L198.05 183.94 L199.79 184.63 L201.52 185.31 L203.26 185.98 L205 186.64 L206.74 187.28 L208.48 187.92 L210.22 188.55 L211.96 189.17 L213.7 189.79 L215.44 190.41 L217.18 191.02 L218.92 191.62 L220.66 192.22 L222.4 192.8 L224.14 193.38 L225.88 193.95 L227.62 194.5 L229.36 195.05 L231.1 195.58 L232.84 196.1 L234.58 196.6 L236.31 197.09 L238.05 197.57 L239.79 198.02 L241.53 198.47 L243.27 198.91 L245.01 199.34 L246.75 199.77 L248.49 200.18 L250.23 200.59 L251.97 200.99 L253.71 201.37 L255.45 201.75 L257.19 202.12 L258.93 202.48 L260.67 202.82 L262.41 203.16 L264.15 203.48 L265.89 203.79 L267.63 204.09 L269.37 204.37 L271.1 204.65 L272.84 204.91 L274.58 205.17 L276.32 205.41 L278.06 205.65 L279.8 205.89 L281.54 206.11 L283.28 206.33 L285.02 206.55 L286.76 206.76 L288.5 206.96 L290.24 207.16 L291.98 207.36 L293.72 207.56 L295.46 207.75 L297.2 207.95 L298.94 208.13 L300.68 208.32 L302.42 208.5 L304.16 208.69 L305.89 208.86 L307.63 209.04 L309.37 209.21 L311.11 209.39 L312.85 209.56 L314.59 209.72 L316.33 209.89 L318.07 210.05 L319.81 210.21 L321.55 210.37 L323.29 210.53 L325.03 210.68 L326.77 210.84 L328.51 210.99 L330.25 211.14 L331.99 211.28 L333.73 211.43 L335.47 211.57 L337.21 211.72 L338.95 211.86 L340.68 212 L342.42 212.14 L344.16 212.28 L345.9 212.41 L347.64 212.55 L349.38 212.68 L351.12 212.82 L352.86 212.95 L354.6 213.08 L356.34 213.21 L358.08 213.34 L359.82 213.47 L361.56 213.59 L363.3 213.72 L365.04 213.84 L366.78 213.96 L368.52 214.08 L370.26 214.2 L372 214.32 L373.74 214.44 L375.47 214.55 L377.21 214.66 L378.95 214.77 L380.69 214.88 L382.43 214.99 L384.17 215.1 L385.91 215.2 L387.65 215.3 L389.39 215.4 L391.13 215.5"/>
<path stroke="#ff0000" stroke-width="1.95" stroke-dasharray="1.7 3.7" d="M114.55 220.3H391.13"/>
<path stroke="#ff0000" stroke-dasharray="12.2 4.7 2.4 4.7" stroke-dashoffset="2" d="M114.55 223 L116.29 223.09 L118.03 223.18 L119.77 223.27 L121.51 223.35 L123.25 223.44 L124.99 223.53 L126.73 223.62 L128.47 223.71 L130.21 223.8 L131.94 223.89 L133.68 223.98 L135.42 224.07 L137.16 224.16 L138.9 224.25 L140.64 224.34 L142.38 224.43 L144.12 224.52 L145.86 224.61 L147.6 224.7 L149.34 224.79 L151.08 224.89 L152.82 224.98 L154.56 225.07 L156.3 225.16 L158.04 225.25 L159.78 225.34 L161.52 225.44 L163.26 225.53 L165 225.62 L166.73 225.71 L168.47 225.8 L170.21 225.89 L171.95 225.98 L173.69 226.07 L175.43 226.15 L177.17 226.24 L178.91 226.33 L180.65 226.42 L182.39 226.5 L184.13 226.59 L185.87 226.68 L187.61 226.77 L189.35 226.86 L191.09 226.96 L192.83 227.05 L194.57 227.15 L196.31 227.24 L198.05 227.34 L199.79 227.44 L201.52 227.55 L203.26 227.65 L205 227.76 L206.74 227.87 L208.48 227.99 L210.22 228.1 L211.96 228.23 L213.7 228.36 L215.44 228.49 L217.18 228.63 L218.92 228.78 L220.66 228.93 L222.4 229.08 L224.14 229.23 L225.88 229.38 L227.62 229.54 L229.36 229.69 L231.1 229.84 L232.84 230 L234.58 230.15 L236.31 230.3 L238.05 230.44 L239.79 230.58 L241.53 230.72 L243.27 230.85 L245.01 230.98 L246.75 231.11 L248.49 231.24 L250.23 231.36 L251.97 231.49 L253.71 231.61 L255.45 231.74 L257.19 231.87 L258.93 232 L260.67 232.14 L262.41 232.28 L264.15 232.42 L265.89 232.58 L267.63 232.74 L269.37 232.9 L271.1 233.08 L272.84 233.26 L274.58 233.44 L276.32 233.63 L278.06 233.82 L279.8 234.02 L281.54 234.23 L283.28 234.43 L285.02 234.65 L286.76 234.86 L288.5 235.09 L290.24 235.31 L291.98 235.54 L293.72 235.78 L295.46 236.02 L297.2 236.26 L298.94 236.5 L300.68 236.75 L302.42 237.01 L304.16 237.26 L305.89 237.52 L307.63 237.79 L309.37 238.05 L311.11 238.32 L312.85 238.59 L314.59 238.87 L316.33 239.15 L318.07 239.43 L319.81 239.71 L321.55 239.99 L323.29 240.28 L325.03 240.58 L326.77 240.88 L328.51 241.19 L330.25 241.51 L331.99 241.83 L333.73 242.16 L335.47 242.5 L337.21 242.85 L338.95 243.2 L340.68 243.56 L342.42 243.92 L344.16 244.29 L345.9 244.66 L347.64 245.04 L349.38 245.42 L351.12 245.8 L352.86 246.19 L354.6 246.58 L356.34 246.97 L358.08 247.36 L359.82 247.76 L361.56 248.16 L363.3 248.56 L365.04 248.98 L366.78 249.4 L368.52 249.82 L370.26 250.25 L372 250.68 L373.74 251.13 L375.47 251.57 L377.21 252.02 L378.95 252.48 L380.69 252.94 L382.43 253.41 L384.17 253.88 L385.91 254.35 L387.65 254.83 L389.39 255.31 L391.13 255.8"/>
<path stroke="#ff0000" stroke-dasharray="17 5.4 2.2 5.4 2.2 5.4 2.2 5.4" stroke-dashoffset="2" d="M114.55 149 L116.3 149.99 L118.06 150.96 L119.81 151.94 L121.56 152.9 L123.32 153.86 L125.07 154.81 L126.82 155.76 L128.58 156.7 L130.33 157.63 L132.08 158.56 L133.83 159.48 L135.59 160.4 L137.34 161.31 L139.09 162.22 L140.85 163.12 L142.6 164.01 L144.35 164.88 L146.11 165.74 L147.86 166.6 L149.61 167.45 L151.37 168.32 L153.12 169.2 L154.87 170.11 L156.63 171.02 L158.38 171.94 L160.13 172.89 L161.88 173.85 L163.64 174.83 L165.39 175.84 L167.14 176.88 L168.9 177.96 L170.65 179.08 L172.4 180.23 L174.16 181.4 L175.91 182.57 L177.66 183.74 L179.42 184.9 L181.17 186.01 L182.92 187.11 L184.68 188.2 L186.43 189.3 L188.18 190.43 L189.94 191.57 L191.69 192.73 L193.44 193.9 L195.19 195.07 L196.95 196.25 L198.7 197.44 L200.45 198.63 L202.21 199.81 L203.96 201 L205.71 202.19 L207.47 203.37 L209.22 204.55 L210.97 205.72 L212.73 206.88 L214.48 208.03 L216.23 209.18 L217.99 210.33 L219.74 211.47 L221.49 212.62 L223.24 213.77 L225 214.92 L226.75 216.08 L228.5 217.25 L230.26 218.43 L232.01 219.61 L233.76 220.82 L235.52 222.03 L237.27 223.26 L239.02 224.51 L240.78 225.79 L242.53 227.11 L244.28 228.47 L246.04 229.85 L247.79 231.22 L249.54 232.58 L251.3 233.9 L253.05 235.18 L254.8 236.42 L256.55 237.65 L258.31 238.86 L260.06 240.06 L261.81 241.26 L263.57 242.46 L265.32 243.68 L267.07 244.92 L268.83 246.18 L270.58 247.47 L272.33 248.77 L274.09 250.08 L275.84 251.41 L277.59 252.75 L279.35 254.11 L281.1 255.48 L282.85 256.86 L284.61 258.26 L286.36 259.66 L288.11 261.07 L289.86 262.49 L291.62 263.92 L293.37 265.35 L295.12 266.79 L296.88 268.23 L298.63 269.67 L300.38 271.11 L302.14 272.56 L303.89 274 L305.64 275.44 L307.4 276.88 L309.15 278.32 L310.9 279.75 L312.66 281.18 L314.41 282.6 L316.16 284.02 L317.91 285.43 L319.67 286.85 L321.42 288.27 L323.17 289.68 L324.93 291.09 L326.68 292.51 L328.43 293.92 L330.19 295.34 L331.94 296.75 L333.69 298.17 L335.45 299.58 L337.2 301 L338.95 302.42 L340.71 303.84 L342.46 305.26 L344.21 306.68 L345.97 308.1 L347.72 309.53 L349.47 310.95 L351.22 312.39 L352.98 313.82 L354.73 315.26 L356.48 316.69 L358.24 318.14 L359.99 319.58 L361.74 321.02 L363.5 322.47 L365.25 323.91 L367 325.36 L368.76 326.8 L370.51 328.25 L372.26 329.69 L374.02 331.13 L375.77 332.58 L377.52 334.02 L379.27 335.46 L381.03 336.89 L382.78 338.33 L384.53 339.76 L386.29 341.19 L388.04 342.61 L389.79 344.03 L391.55 345.45 L393.3 346.85"/>
</g>
<g clip-path="url(#cp01)" fill="none" stroke-width="2.15">
<path stroke="#ff0000" d="M391.13 150.3 L392.87 151.23 L394.61 152.15 L396.35 153.06 L398.1 153.97 L399.84 154.87 L401.58 155.77 L403.32 156.66 L405.06 157.55 L406.8 158.43 L408.55 159.3 L410.29 160.17 L412.03 161.03 L413.77 161.89 L415.51 162.74 L417.25 163.58 L419 164.42 L420.74 165.25 L422.48 166.07 L424.22 166.89 L425.96 167.7 L427.7 168.51 L429.44 169.31 L431.19 170.1 L432.93 170.88 L434.67 171.66 L436.41 172.43 L438.15 173.2 L439.89 173.96 L441.64 174.71 L443.38 175.46 L445.12 176.21 L446.86 176.96 L448.6 177.7 L450.34 178.43 L452.09 179.17 L453.83 179.89 L455.57 180.62 L457.31 181.33 L459.05 182.04 L460.79 182.75 L462.53 183.44 L464.28 184.13 L466.02 184.82 L467.76 185.49 L469.5 186.16 L471.24 186.82 L472.98 187.47 L474.73 188.11 L476.47 188.74 L478.21 189.37 L479.95 189.98 L481.69 190.58 L483.43 191.18 L485.17 191.76 L486.92 192.33 L488.66 192.9 L490.4 193.46 L492.14 194.02 L493.88 194.57 L495.62 195.11 L497.37 195.64 L499.11 196.17 L500.85 196.68 L502.59 197.19 L504.33 197.69 L506.07 198.17 L507.82 198.65 L509.56 199.11 L511.3 199.57 L513.04 200.01 L514.78 200.44 L516.52 200.85 L518.26 201.26 L520.01 201.66 L521.75 202.06 L523.49 202.45 L525.23 202.83 L526.97 203.21 L528.71 203.57 L530.46 203.93 L532.2 204.28 L533.94 204.61 L535.68 204.94 L537.42 205.25 L539.16 205.55 L540.91 205.83 L542.65 206.1 L544.39 206.36 L546.13 206.61 L547.87 206.85 L549.61 207.09 L551.35 207.31 L553.1 207.53 L554.84 207.75 L556.58 207.95 L558.32 208.15 L560.06 208.35 L561.8 208.53 L563.55 208.71 L565.29 208.88 L567.03 209.04 L568.77 209.2 L570.51 209.35 L572.25 209.49 L574 209.63 L575.74 209.77 L577.48 209.91 L579.22 210.04 L580.96 210.16 L582.7 210.29 L584.44 210.41 L586.19 210.53 L587.93 210.64 L589.67 210.76 L591.41 210.87 L593.15 210.98 L594.89 211.09 L596.64 211.19 L598.38 211.3 L600.12 211.4 L601.86 211.51 L603.6 211.61 L605.34 211.71 L607.08 211.81 L608.83 211.91 L610.57 212.01 L612.31 212.11 L614.05 212.21 L615.79 212.32 L617.53 212.42 L619.28 212.52 L621.02 212.62 L622.76 212.72 L624.5 212.81 L626.24 212.91 L627.98 213.01 L629.73 213.1 L631.47 213.2 L633.21 213.29 L634.95 213.39 L636.69 213.48 L638.43 213.57 L640.17 213.66 L641.92 213.75 L643.66 213.84 L645.4 213.93 L647.14 214.02 L648.88 214.11 L650.62 214.19 L652.37 214.28 L654.11 214.36 L655.85 214.45 L657.59 214.53 L659.33 214.61 L661.07 214.69 L662.82 214.77 L664.56 214.85 L666.3 214.92 L668.04 215"/>
<path stroke="#0000ff" stroke-dasharray="10.6 10.6" d="M391.13 150.1 L392.87 150.91 L394.61 151.73 L396.35 152.54 L398.1 153.34 L399.84 154.14 L401.58 154.94 L403.32 155.74 L405.06 156.54 L406.8 157.33 L408.55 158.12 L410.29 158.9 L412.03 159.68 L413.77 160.46 L415.51 161.24 L417.25 162.01 L419 162.78 L420.74 163.55 L422.48 164.31 L424.22 165.07 L425.96 165.83 L427.7 166.58 L429.44 167.34 L431.19 168.08 L432.93 168.83 L434.67 169.57 L436.41 170.3 L438.15 171.04 L439.89 171.77 L441.64 172.5 L443.38 173.24 L445.12 173.97 L446.86 174.71 L448.6 175.44 L450.34 176.18 L452.09 176.91 L453.83 177.64 L455.57 178.37 L457.31 179.1 L459.05 179.82 L460.79 180.54 L462.53 181.25 L464.28 181.95 L466.02 182.65 L467.76 183.34 L469.5 184.03 L471.24 184.7 L472.98 185.36 L474.73 186.02 L476.47 186.66 L478.21 187.29 L479.95 187.91 L481.69 188.52 L483.43 189.12 L485.17 189.69 L486.92 190.26 L488.66 190.83 L490.4 191.38 L492.14 191.93 L493.88 192.47 L495.62 193.01 L497.37 193.53 L499.11 194.05 L500.85 194.56 L502.59 195.05 L504.33 195.54 L506.07 196.02 L507.82 196.49 L509.56 196.94 L511.3 197.39 L513.04 197.82 L514.78 198.25 L516.52 198.66 L518.26 199.06 L520.01 199.45 L521.75 199.84 L523.49 200.22 L525.23 200.59 L526.97 200.96 L528.71 201.31 L530.46 201.66 L532.2 202 L533.94 202.33 L535.68 202.65 L537.42 202.96 L539.16 203.27 L540.91 203.56 L542.65 203.85 L544.39 204.12 L546.13 204.4 L547.87 204.66 L549.61 204.92 L551.35 205.18 L553.1 205.43 L554.84 205.67 L556.58 205.91 L558.32 206.14 L560.06 206.36 L561.8 206.57 L563.55 206.78 L565.29 206.97 L567.03 207.16 L568.77 207.33 L570.51 207.5 L572.25 207.67 L574 207.83 L575.74 207.98 L577.48 208.14 L579.22 208.29 L580.96 208.43 L582.7 208.57 L584.44 208.71 L586.19 208.85 L587.93 208.98 L589.67 209.11 L591.41 209.24 L593.15 209.36 L594.89 209.48 L596.64 209.6 L598.38 209.72 L600.12 209.84 L601.86 209.95 L603.6 210.06 L605.34 210.17 L607.08 210.28 L608.83 210.39 L610.57 210.5 L612.31 210.6 L614.05 210.71 L615.79 210.81 L617.53 210.91 L619.28 211.01 L621.02 211.12 L622.76 211.22 L624.5 211.31 L626.24 211.41 L627.98 211.51 L629.73 211.61 L631.47 211.7 L633.21 211.8 L634.95 211.89 L636.69 211.98 L638.43 212.07 L640.17 212.16 L641.92 212.25 L643.66 212.33 L645.4 212.42 L647.14 212.5 L648.88 212.58 L650.62 212.66 L652.37 212.74 L654.11 212.82 L655.85 212.9 L657.59 212.97 L659.33 213.04 L661.07 213.11 L662.82 213.18 L664.56 213.25 L666.3 213.31 L668.04 213.38"/>
<path stroke="#00ff00" stroke-dasharray="21.2 10.6" d="M391.13 147.5 L392.87 148.35 L394.61 149.19 L396.35 150.04 L398.1 150.88 L399.84 151.71 L401.58 152.54 L403.32 153.37 L405.06 154.2 L406.8 155.02 L408.55 155.84 L410.29 156.65 L412.03 157.46 L413.77 158.27 L415.51 159.08 L417.25 159.88 L419 160.67 L420.74 161.47 L422.48 162.26 L424.22 163.04 L425.96 163.83 L427.7 164.61 L429.44 165.38 L431.19 166.15 L432.93 166.92 L434.67 167.69 L436.41 168.45 L438.15 169.2 L439.89 169.96 L441.64 170.71 L443.38 171.47 L445.12 172.22 L446.86 172.98 L448.6 173.74 L450.34 174.49 L452.09 175.25 L453.83 176 L455.57 176.75 L457.31 177.49 L459.05 178.23 L460.79 178.97 L462.53 179.7 L464.28 180.42 L466.02 181.14 L467.76 181.85 L469.5 182.55 L471.24 183.24 L472.98 183.92 L474.73 184.59 L476.47 185.25 L478.21 185.9 L479.95 186.53 L481.69 187.16 L483.43 187.76 L485.17 188.36 L486.92 188.94 L488.66 189.52 L490.4 190.09 L492.14 190.65 L493.88 191.21 L495.62 191.76 L497.37 192.29 L499.11 192.82 L500.85 193.34 L502.59 193.85 L504.33 194.35 L506.07 194.85 L507.82 195.32 L509.56 195.79 L511.3 196.25 L513.04 196.7 L514.78 197.13 L516.52 197.55 L518.26 197.97 L520.01 198.37 L521.75 198.77 L523.49 199.16 L525.23 199.54 L526.97 199.92 L528.71 200.28 L530.46 200.64 L532.2 200.99 L533.94 201.33 L535.68 201.66 L537.42 201.98 L539.16 202.3 L540.91 202.6 L542.65 202.89 L544.39 203.18 L546.13 203.46 L547.87 203.73 L549.61 204 L551.35 204.27 L553.1 204.52 L554.84 204.78 L556.58 205.02 L558.32 205.26 L560.06 205.49 L561.8 205.71 L563.55 205.92 L565.29 206.12 L567.03 206.31 L568.77 206.5 L570.51 206.67 L572.25 206.84 L574 207.01 L575.74 207.17 L577.48 207.33 L579.22 207.49 L580.96 207.64 L582.7 207.79 L584.44 207.93 L586.19 208.07 L587.93 208.21 L589.67 208.35 L591.41 208.48 L593.15 208.61 L594.89 208.74 L596.64 208.86 L598.38 208.99 L600.12 209.11 L601.86 209.23 L603.6 209.34 L605.34 209.46 L607.08 209.57 L608.83 209.69 L610.57 209.8 L612.31 209.91 L614.05 210.02 L615.79 210.12 L617.53 210.23 L619.28 210.34 L621.02 210.44 L622.76 210.55 L624.5 210.65 L626.24 210.75 L627.98 210.86 L629.73 210.96 L631.47 211.05 L633.21 211.15 L634.95 211.25 L636.69 211.34 L638.43 211.44 L640.17 211.53 L641.92 211.62 L643.66 211.71 L645.4 211.8 L647.14 211.89 L648.88 211.97 L650.62 212.06 L652.37 212.14 L654.11 212.22 L655.85 212.3 L657.59 212.38 L659.33 212.45 L661.07 212.52 L662.82 212.6 L664.56 212.67 L666.3 212.73 L668.04 212.8"/>
<path stroke="#ff0000" stroke-width="1.95" stroke-dasharray="1.7 3.7" d="M391.13 217H668.04"/>
<path stroke="#ff0000" stroke-dasharray="12.2 4.7 2.4 4.7" stroke-dashoffset="2" d="M391.13 230.3 L392.87 230.35 L394.61 230.39 L396.35 230.44 L398.1 230.49 L399.84 230.53 L401.58 230.58 L403.32 230.63 L405.06 230.68 L406.8 230.73 L408.55 230.79 L410.29 230.84 L412.03 230.89 L413.77 230.95 L415.51 231 L417.25 231.05 L419 231.11 L420.74 231.17 L422.48 231.22 L424.22 231.28 L425.96 231.34 L427.7 231.4 L429.44 231.46 L431.19 231.52 L432.93 231.58 L434.67 231.64 L436.41 231.7 L438.15 231.76 L439.89 231.82 L441.64 231.88 L443.38 231.95 L445.12 232.02 L446.86 232.08 L448.6 232.15 L450.34 232.22 L452.09 232.29 L453.83 232.37 L455.57 232.44 L457.31 232.51 L459.05 232.59 L460.79 232.66 L462.53 232.74 L464.28 232.81 L466.02 232.89 L467.76 232.96 L469.5 233.04 L471.24 233.12 L472.98 233.19 L474.73 233.27 L476.47 233.34 L478.21 233.42 L479.95 233.49 L481.69 233.56 L483.43 233.64 L485.17 233.71 L486.92 233.78 L488.66 233.84 L490.4 233.91 L492.14 233.98 L493.88 234.04 L495.62 234.1 L497.37 234.17 L499.11 234.23 L500.85 234.3 L502.59 234.36 L504.33 234.43 L506.07 234.5 L507.82 234.57 L509.56 234.65 L511.3 234.72 L513.04 234.8 L514.78 234.89 L516.52 234.98 L518.26 235.07 L520.01 235.17 L521.75 235.27 L523.49 235.37 L525.23 235.48 L526.97 235.59 L528.71 235.7 L530.46 235.82 L532.2 235.94 L533.94 236.07 L535.68 236.2 L537.42 236.33 L539.16 236.46 L540.91 236.6 L542.65 236.75 L544.39 236.89 L546.13 237.05 L547.87 237.22 L549.61 237.39 L551.35 237.58 L553.1 237.77 L554.84 237.96 L556.58 238.16 L558.32 238.36 L560.06 238.57 L561.8 238.77 L563.55 238.98 L565.29 239.19 L567.03 239.39 L568.77 239.6 L570.51 239.8 L572.25 240 L574 240.2 L575.74 240.39 L577.48 240.59 L579.22 240.79 L580.96 240.99 L582.7 241.19 L584.44 241.39 L586.19 241.59 L587.93 241.79 L589.67 241.99 L591.41 242.2 L593.15 242.41 L594.89 242.62 L596.64 242.83 L598.38 243.04 L600.12 243.26 L601.86 243.48 L603.6 243.71 L605.34 243.94 L607.08 244.17 L608.83 244.41 L610.57 244.66 L612.31 244.91 L614.05 245.16 L615.79 245.42 L617.53 245.68 L619.28 245.96 L621.02 246.23 L622.76 246.52 L624.5 246.81 L626.24 247.11 L627.98 247.42 L629.73 247.74 L631.47 248.06 L633.21 248.4 L634.95 248.74 L636.69 249.1 L638.43 249.46 L640.17 249.84 L641.92 250.24 L643.66 250.66 L645.4 251.12 L647.14 251.59 L648.88 252.08 L650.62 252.58 L652.37 253.08 L654.11 253.6 L655.85 254.11 L657.59 254.62 L659.33 255.12 L661.07 255.6 L662.82 256.07 L664.56 256.52 L666.3 256.96 L668.04 257.4"/>
<path stroke="#ff0000" stroke-dasharray="17 5.4 2.2 5.4 2.2 5.4 2.2 5.4" stroke-dashoffset="2" d="M391.13 151 L392.88 151.97 L394.64 152.93 L396.39 153.88 L398.14 154.82 L399.9 155.76 L401.65 156.69 L403.4 157.61 L405.16 158.52 L406.91 159.43 L408.66 160.33 L410.41 161.22 L412.17 162.1 L413.92 162.98 L415.67 163.86 L417.43 164.72 L419.18 165.58 L420.93 166.41 L422.69 167.23 L424.44 168.04 L426.19 168.85 L427.95 169.67 L429.7 170.52 L431.45 171.38 L433.21 172.26 L434.96 173.15 L436.71 174.05 L438.46 174.97 L440.22 175.9 L441.97 176.84 L443.72 177.81 L445.48 178.83 L447.23 179.9 L448.98 181.01 L450.74 182.14 L452.49 183.28 L454.24 184.41 L456 185.52 L457.75 186.59 L459.5 187.62 L461.26 188.66 L463.01 189.71 L464.76 190.8 L466.52 191.92 L468.27 193.05 L470.02 194.19 L471.77 195.35 L473.53 196.52 L475.28 197.69 L477.03 198.87 L478.79 200.05 L480.54 201.23 L482.29 202.41 L484.05 203.58 L485.8 204.74 L487.55 205.9 L489.31 207.04 L491.06 208.18 L492.81 209.32 L494.57 210.45 L496.32 211.59 L498.07 212.72 L499.82 213.86 L501.58 215 L503.33 216.15 L505.08 217.3 L506.84 218.47 L508.59 219.65 L510.34 220.84 L512.1 222.05 L513.85 223.27 L515.6 224.51 L517.36 225.79 L519.11 227.11 L520.86 228.47 L522.62 229.84 L524.37 231.22 L526.12 232.58 L527.88 233.9 L529.63 235.18 L531.38 236.42 L533.13 237.65 L534.89 238.86 L536.64 240.06 L538.39 241.26 L540.15 242.46 L541.9 243.68 L543.65 244.92 L545.41 246.18 L547.16 247.47 L548.91 248.77 L550.67 250.08 L552.42 251.41 L554.17 252.75 L555.93 254.11 L557.68 255.48 L559.43 256.86 L561.19 258.26 L562.94 259.66 L564.69 261.07 L566.44 262.49 L568.2 263.92 L569.95 265.35 L571.7 266.79 L573.46 268.23 L575.21 269.67 L576.96 271.11 L578.72 272.56 L580.47 274 L582.22 275.44 L583.98 276.88 L585.73 278.32 L587.48 279.75 L589.24 281.18 L590.99 282.6 L592.74 284.02 L594.49 285.43 L596.25 286.85 L598 288.27 L599.75 289.68 L601.51 291.09 L603.26 292.51 L605.01 293.92 L606.77 295.34 L608.52 296.75 L610.27 298.17 L612.03 299.58 L613.78 301 L615.53 302.42 L617.29 303.84 L619.04 305.26 L620.79 306.68 L622.55 308.1 L624.3 309.53 L626.05 310.95 L627.8 312.39 L629.56 313.82 L631.31 315.26 L633.06 316.69 L634.82 318.14 L636.57 319.58 L638.32 321.02 L640.08 322.47 L641.83 323.91 L643.58 325.36 L645.34 326.8 L647.09 328.25 L648.84 329.69 L650.6 331.13 L652.35 332.58 L654.1 334.02 L655.85 335.46 L657.61 336.89 L659.36 338.33 L661.11 339.76 L662.87 341.19 L664.62 342.61 L666.37 344.03 L668.13 345.45 L669.88 346.85"/>
</g>
<g clip-path="url(#cp02)" fill="none" stroke-width="2.15">
<path stroke="#ff0000" d="M668.04 159.7 L669.78 160.62 L671.52 161.54 L673.26 162.46 L675.01 163.36 L676.75 164.27 L678.49 165.16 L680.23 166.05 L681.97 166.94 L683.71 167.81 L685.46 168.69 L687.2 169.55 L688.94 170.41 L690.68 171.26 L692.42 172.11 L694.16 172.95 L695.91 173.78 L697.65 174.61 L699.39 175.43 L701.13 176.25 L702.87 177.05 L704.61 177.85 L706.35 178.65 L708.1 179.43 L709.84 180.21 L711.58 180.98 L713.32 181.75 L715.06 182.51 L716.8 183.26 L718.55 184.01 L720.29 184.75 L722.03 185.49 L723.77 186.22 L725.51 186.95 L727.25 187.68 L729 188.4 L730.74 189.11 L732.48 189.82 L734.22 190.53 L735.96 191.22 L737.7 191.92 L739.44 192.6 L741.19 193.28 L742.93 193.95 L744.67 194.62 L746.41 195.27 L748.15 195.92 L749.89 196.57 L751.64 197.2 L753.38 197.83 L755.12 198.44 L756.86 199.05 L758.6 199.65 L760.34 200.25 L762.08 200.83 L763.83 201.4 L765.57 201.97 L767.31 202.54 L769.05 203.1 L770.79 203.65 L772.53 204.2 L774.28 204.74 L776.02 205.27 L777.76 205.79 L779.5 206.31 L781.24 206.81 L782.98 207.31 L784.73 207.79 L786.47 208.26 L788.21 208.72 L789.95 209.17 L791.69 209.61 L793.43 210.03 L795.17 210.45 L796.92 210.86 L798.66 211.27 L800.4 211.67 L802.14 212.06 L803.88 212.45 L805.62 212.83 L807.37 213.2 L809.11 213.55 L810.85 213.9 L812.59 214.23 L814.33 214.54 L816.07 214.84 L817.82 215.13 L819.56 215.39 L821.3 215.64 L823.04 215.88 L824.78 216.11 L826.52 216.33 L828.26 216.55 L830.01 216.76 L831.75 216.95 L833.49 217.15 L835.23 217.33 L836.97 217.51 L838.71 217.68 L840.46 217.84 L842.2 218 L843.94 218.15 L845.68 218.3 L847.42 218.44 L849.16 218.57 L850.91 218.71 L852.65 218.83 L854.39 218.96 L856.13 219.08 L857.87 219.19 L859.61 219.31 L861.35 219.42 L863.1 219.53 L864.84 219.64 L866.58 219.74 L868.32 219.84 L870.06 219.94 L871.8 220.04 L873.55 220.14 L875.29 220.24 L877.03 220.34 L878.77 220.43 L880.51 220.53 L882.25 220.62 L883.99 220.72 L885.74 220.82 L887.48 220.92 L889.22 221.02 L890.96 221.12 L892.7 221.22 L894.44 221.31 L896.19 221.41 L897.93 221.51 L899.67 221.61 L901.41 221.71 L903.15 221.81 L904.89 221.9 L906.64 222 L908.38 222.1 L910.12 222.19 L911.86 222.29 L913.6 222.38 L915.34 222.48 L917.08 222.57 L918.83 222.66 L920.57 222.76 L922.31 222.85 L924.05 222.94 L925.79 223.03 L927.53 223.12 L929.28 223.21 L931.02 223.3 L932.76 223.39 L934.5 223.48 L936.24 223.57 L937.98 223.66 L939.73 223.74 L941.47 223.83 L943.21 223.91 L944.95 224"/>
<path stroke="#0000ff" stroke-dasharray="10.6 10.6" d="M668.04 160.7 L669.78 161.46 L671.52 162.22 L673.26 162.97 L675.01 163.73 L676.75 164.48 L678.49 165.23 L680.23 165.98 L681.97 166.73 L683.71 167.47 L685.46 168.22 L687.2 168.96 L688.94 169.7 L690.68 170.44 L692.42 171.17 L694.16 171.91 L695.91 172.64 L697.65 173.37 L699.39 174.1 L701.13 174.82 L702.87 175.55 L704.61 176.27 L706.35 176.99 L708.1 177.71 L709.84 178.43 L711.58 179.14 L713.32 179.85 L715.06 180.56 L716.8 181.27 L718.55 181.98 L720.29 182.69 L722.03 183.41 L723.77 184.12 L725.51 184.84 L727.25 185.55 L729 186.27 L730.74 186.99 L732.48 187.7 L734.22 188.41 L735.96 189.12 L737.7 189.82 L739.44 190.52 L741.19 191.22 L742.93 191.91 L744.67 192.59 L746.41 193.27 L748.15 193.94 L749.89 194.6 L751.64 195.25 L753.38 195.9 L755.12 196.53 L756.86 197.16 L758.6 197.77 L760.34 198.37 L762.08 198.96 L763.83 199.54 L765.57 200.13 L767.31 200.7 L769.05 201.28 L770.79 201.84 L772.53 202.41 L774.28 202.96 L776.02 203.51 L777.76 204.04 L779.5 204.57 L781.24 205.09 L782.98 205.59 L784.73 206.08 L786.47 206.55 L788.21 207.01 L789.95 207.45 L791.69 207.88 L793.43 208.28 L795.17 208.67 L796.92 209.05 L798.66 209.42 L800.4 209.78 L802.14 210.12 L803.88 210.46 L805.62 210.79 L807.37 211.11 L809.11 211.42 L810.85 211.73 L812.59 212.03 L814.33 212.32 L816.07 212.61 L817.82 212.9 L819.56 213.18 L821.3 213.46 L823.04 213.75 L824.78 214.04 L826.52 214.33 L828.26 214.61 L830.01 214.9 L831.75 215.17 L833.49 215.44 L835.23 215.7 L836.97 215.94 L838.71 216.18 L840.46 216.39 L842.2 216.59 L843.94 216.76 L845.68 216.91 L847.42 217.05 L849.16 217.18 L850.91 217.31 L852.65 217.43 L854.39 217.54 L856.13 217.65 L857.87 217.75 L859.61 217.85 L861.35 217.95 L863.1 218.04 L864.84 218.13 L866.58 218.21 L868.32 218.3 L870.06 218.38 L871.8 218.45 L873.55 218.53 L875.29 218.61 L877.03 218.68 L878.77 218.76 L880.51 218.83 L882.25 218.9 L883.99 218.98 L885.74 219.05 L887.48 219.13 L889.22 219.21 L890.96 219.29 L892.7 219.37 L894.44 219.45 L896.19 219.53 L897.93 219.6 L899.67 219.68 L901.41 219.76 L903.15 219.84 L904.89 219.91 L906.64 219.99 L908.38 220.06 L910.12 220.14 L911.86 220.21 L913.6 220.29 L915.34 220.36 L917.08 220.43 L918.83 220.5 L920.57 220.58 L922.31 220.65 L924.05 220.72 L925.79 220.78 L927.53 220.85 L929.28 220.92 L931.02 220.99 L932.76 221.05 L934.5 221.12 L936.24 221.18 L937.98 221.25 L939.73 221.31 L941.47 221.37 L943.21 221.43 L944.95 221.49"/>
<path stroke="#00ff00" stroke-dasharray="21.2 10.6" d="M668.04 156.7 L669.78 157.52 L671.52 158.33 L673.26 159.14 L675.01 159.95 L676.75 160.75 L678.49 161.56 L680.23 162.36 L681.97 163.15 L683.71 163.95 L685.46 164.74 L687.2 165.53 L688.94 166.32 L690.68 167.11 L692.42 167.89 L694.16 168.67 L695.91 169.44 L697.65 170.22 L699.39 170.99 L701.13 171.76 L702.87 172.52 L704.61 173.29 L706.35 174.05 L708.1 174.81 L709.84 175.56 L711.58 176.32 L713.32 177.07 L715.06 177.81 L716.8 178.56 L718.55 179.3 L720.29 180.05 L722.03 180.8 L723.77 181.55 L725.51 182.3 L727.25 183.05 L729 183.8 L730.74 184.55 L732.48 185.29 L734.22 186.04 L735.96 186.78 L737.7 187.51 L739.44 188.24 L741.19 188.96 L742.93 189.68 L744.67 190.4 L746.41 191.1 L748.15 191.8 L749.89 192.49 L751.64 193.17 L753.38 193.84 L755.12 194.5 L756.86 195.15 L758.6 195.79 L760.34 196.42 L762.08 197.03 L763.83 197.64 L765.57 198.24 L767.31 198.84 L769.05 199.44 L770.79 200.03 L772.53 200.61 L774.28 201.19 L776.02 201.76 L777.76 202.32 L779.5 202.86 L781.24 203.4 L782.98 203.92 L784.73 204.43 L786.47 204.92 L788.21 205.4 L789.95 205.86 L791.69 206.31 L793.43 206.73 L795.17 207.14 L796.92 207.54 L798.66 207.92 L800.4 208.3 L802.14 208.66 L803.88 209.01 L805.62 209.36 L807.37 209.69 L809.11 210.02 L810.85 210.34 L812.59 210.66 L814.33 210.97 L816.07 211.27 L817.82 211.58 L819.56 211.87 L821.3 212.17 L823.04 212.47 L824.78 212.77 L826.52 213.07 L828.26 213.37 L830.01 213.67 L831.75 213.96 L833.49 214.24 L835.23 214.51 L836.97 214.77 L838.71 215.01 L840.46 215.24 L842.2 215.45 L843.94 215.63 L845.68 215.8 L847.42 215.95 L849.16 216.09 L850.91 216.22 L852.65 216.35 L854.39 216.48 L856.13 216.6 L857.87 216.71 L859.61 216.82 L861.35 216.93 L863.1 217.03 L864.84 217.12 L866.58 217.22 L868.32 217.31 L870.06 217.4 L871.8 217.49 L873.55 217.58 L875.29 217.66 L877.03 217.74 L878.77 217.83 L880.51 217.91 L882.25 217.99 L883.99 218.07 L885.74 218.16 L887.48 218.24 L889.22 218.33 L890.96 218.41 L892.7 218.5 L894.44 218.59 L896.19 218.67 L897.93 218.76 L899.67 218.84 L901.41 218.93 L903.15 219.01 L904.89 219.1 L906.64 219.18 L908.38 219.26 L910.12 219.34 L911.86 219.42 L913.6 219.5 L915.34 219.58 L917.08 219.66 L918.83 219.74 L920.57 219.81 L922.31 219.89 L924.05 219.96 L925.79 220.04 L927.53 220.11 L929.28 220.18 L931.02 220.26 L932.76 220.33 L934.5 220.4 L936.24 220.47 L937.98 220.54 L939.73 220.6 L941.47 220.67 L943.21 220.74 L944.95 220.8"/>
<path stroke="#ff0000" stroke-width="1.95" stroke-dasharray="1.7 3.7" d="M668.04 225H944.95"/>
<path stroke="#ff0000" stroke-dasharray="12.2 4.7 2.4 4.7" stroke-dashoffset="2" d="M668.04 243.7 L669.78 243.73 L671.52 243.77 L673.26 243.8 L675.01 243.83 L676.75 243.87 L678.49 243.9 L680.23 243.94 L681.97 243.97 L683.71 244.01 L685.46 244.04 L687.2 244.08 L688.94 244.11 L690.68 244.15 L692.42 244.19 L694.16 244.22 L695.91 244.26 L697.65 244.3 L699.39 244.33 L701.13 244.37 L702.87 244.41 L704.61 244.45 L706.35 244.48 L708.1 244.52 L709.84 244.56 L711.58 244.6 L713.32 244.64 L715.06 244.67 L716.8 244.71 L718.55 244.75 L720.29 244.79 L722.03 244.83 L723.77 244.87 L725.51 244.91 L727.25 244.95 L729 244.99 L730.74 245.03 L732.48 245.07 L734.22 245.11 L735.96 245.15 L737.7 245.19 L739.44 245.23 L741.19 245.27 L742.93 245.32 L744.67 245.36 L746.41 245.4 L748.15 245.44 L749.89 245.49 L751.64 245.53 L753.38 245.57 L755.12 245.62 L756.86 245.66 L758.6 245.71 L760.34 245.76 L762.08 245.8 L763.83 245.85 L765.57 245.9 L767.31 245.95 L769.05 246 L770.79 246.05 L772.53 246.1 L774.28 246.15 L776.02 246.21 L777.76 246.26 L779.5 246.31 L781.24 246.37 L782.98 246.42 L784.73 246.47 L786.47 246.53 L788.21 246.58 L789.95 246.64 L791.69 246.69 L793.43 246.74 L795.17 246.79 L796.92 246.84 L798.66 246.89 L800.4 246.94 L802.14 246.99 L803.88 247.04 L805.62 247.09 L807.37 247.14 L809.11 247.19 L810.85 247.25 L812.59 247.3 L814.33 247.36 L816.07 247.43 L817.82 247.5 L819.56 247.57 L821.3 247.64 L823.04 247.73 L824.78 247.82 L826.52 247.91 L828.26 248.01 L830.01 248.12 L831.75 248.23 L833.49 248.34 L835.23 248.46 L836.97 248.59 L838.71 248.72 L840.46 248.85 L842.2 248.99 L843.94 249.13 L845.68 249.28 L847.42 249.43 L849.16 249.58 L850.91 249.74 L852.65 249.9 L854.39 250.06 L856.13 250.22 L857.87 250.39 L859.61 250.56 L861.35 250.74 L863.1 250.92 L864.84 251.12 L866.58 251.32 L868.32 251.53 L870.06 251.75 L871.8 251.98 L873.55 252.22 L875.29 252.46 L877.03 252.71 L878.77 252.96 L880.51 253.22 L882.25 253.48 L883.99 253.75 L885.74 254.02 L887.48 254.29 L889.22 254.56 L890.96 254.84 L892.7 255.11 L894.44 255.39 L896.19 255.68 L897.93 255.97 L899.67 256.27 L901.41 256.57 L903.15 256.88 L904.89 257.2 L906.64 257.52 L908.38 257.85 L910.12 258.18 L911.86 258.52 L913.6 258.87 L915.34 259.22 L917.08 259.58 L918.83 259.95 L920.57 260.32 L922.31 260.71 L924.05 261.11 L925.79 261.53 L927.53 261.96 L929.28 262.39 L931.02 262.84 L932.76 263.29 L934.5 263.75 L936.24 264.21 L937.98 264.68 L939.73 265.15 L941.47 265.62 L943.21 266.1 L944.95 266.6"/>
<path stroke="#ff0000" stroke-dasharray="17 5.4 2.2 5.4 2.2 5.4 2.2 5.4" stroke-dashoffset="2" d="M668.04 162 L669.75 162.7 L671.45 163.4 L673.16 164.12 L674.86 164.84 L676.57 165.58 L678.28 166.32 L679.98 167.07 L681.69 167.82 L683.39 168.58 L685.1 169.35 L686.81 170.13 L688.51 170.91 L690.22 171.7 L691.92 172.49 L693.63 173.29 L695.34 174.09 L697.04 174.91 L698.75 175.73 L700.45 176.57 L702.16 177.42 L703.87 178.28 L705.57 179.15 L707.28 180.04 L708.98 180.96 L710.69 181.92 L712.4 182.89 L714.1 183.85 L715.81 184.79 L717.52 185.69 L719.22 186.55 L720.93 187.39 L722.63 188.23 L724.34 189.09 L726.05 190 L727.75 190.96 L729.46 192.02 L731.16 193.13 L732.87 194.26 L734.58 195.37 L736.28 196.47 L737.99 197.57 L739.69 198.66 L741.4 199.74 L743.11 200.81 L744.81 201.87 L746.52 202.92 L748.22 203.97 L749.93 205.01 L751.64 206.05 L753.34 207.1 L755.05 208.14 L756.75 209.2 L758.46 210.26 L760.17 211.33 L761.87 212.42 L763.58 213.51 L765.28 214.62 L766.99 215.72 L768.7 216.83 L770.4 217.95 L772.11 219.07 L773.81 220.2 L775.52 221.33 L777.23 222.47 L778.93 223.61 L780.64 224.76 L782.34 225.91 L784.05 227.06 L785.76 228.22 L787.46 229.39 L789.17 230.55 L790.87 231.73 L792.58 232.9 L794.29 234.08 L795.99 235.27 L797.7 236.46 L799.4 237.65 L801.11 238.86 L802.82 240.07 L804.52 241.28 L806.23 242.51 L807.94 243.74 L809.64 244.98 L811.35 246.22 L813.05 247.48 L814.76 248.74 L816.47 250.02 L818.17 251.31 L819.88 252.6 L821.58 253.9 L823.29 255.21 L825 256.52 L826.7 257.83 L828.41 259.14 L830.11 260.45 L831.82 261.75 L833.53 263.05 L835.23 264.35 L836.94 265.65 L838.64 266.95 L840.35 268.24 L842.06 269.54 L843.76 270.83 L845.47 272.13 L847.17 273.42 L848.88 274.72 L850.59 276.02 L852.29 277.32 L854 278.62 L855.7 279.92 L857.41 281.23 L859.12 282.55 L860.82 283.86 L862.53 285.18 L864.23 286.51 L865.94 287.84 L867.65 289.17 L869.35 290.51 L871.06 291.86 L872.76 293.22 L874.47 294.58 L876.18 295.95 L877.88 297.32 L879.59 298.7 L881.29 300.08 L883 301.47 L884.71 302.85 L886.41 304.24 L888.12 305.63 L889.82 307.03 L891.53 308.42 L893.24 309.81 L894.94 311.2 L896.65 312.59 L898.36 313.98 L900.06 315.36 L901.77 316.74 L903.47 318.12 L905.18 319.49 L906.89 320.86 L908.59 322.23 L910.3 323.6 L912 324.97 L913.71 326.34 L915.42 327.71 L917.12 329.07 L918.83 330.44 L920.53 331.8 L922.24 333.17 L923.95 334.54 L925.65 335.9 L927.36 337.27 L929.06 338.63 L930.77 340 L932.48 341.37 L934.18 342.74 L935.89 344.11 L937.59 345.48 L939.3 346.85"/>
</g>
<g clip-path="url(#cp10)" fill="none" stroke-width="2.15">
<path stroke="#ff0000" d="M114.55 497.5 L116.29 498.39 L118.03 499.28 L119.77 500.15 L121.51 501.02 L123.25 501.89 L124.99 502.74 L126.73 503.59 L128.47 504.43 L130.21 505.26 L131.94 506.08 L133.68 506.9 L135.42 507.71 L137.16 508.51 L138.9 509.3 L140.64 510.08 L142.38 510.85 L144.12 511.62 L145.86 512.37 L147.6 513.12 L149.34 513.86 L151.08 514.59 L152.82 515.3 L154.56 516.01 L156.3 516.71 L158.04 517.4 L159.78 518.08 L161.52 518.75 L163.26 519.41 L165 520.06 L166.73 520.69 L168.47 521.32 L170.21 521.94 L171.95 522.54 L173.69 523.14 L175.43 523.73 L177.17 524.32 L178.91 524.89 L180.65 525.46 L182.39 526.02 L184.13 526.58 L185.87 527.13 L187.61 527.68 L189.35 528.23 L191.09 528.77 L192.83 529.31 L194.57 529.85 L196.31 530.38 L198.05 530.91 L199.79 531.45 L201.52 531.98 L203.26 532.52 L205 533.05 L206.74 533.59 L208.48 534.13 L210.22 534.68 L211.96 535.23 L213.7 535.79 L215.44 536.36 L217.18 536.92 L218.92 537.49 L220.66 538.05 L222.4 538.61 L224.14 539.16 L225.88 539.71 L227.62 540.24 L229.36 540.77 L231.1 541.27 L232.84 541.76 L234.58 542.24 L236.31 542.69 L238.05 543.12 L239.79 543.52 L241.53 543.91 L243.27 544.29 L245.01 544.67 L246.75 545.04 L248.49 545.4 L250.23 545.76 L251.97 546.1 L253.71 546.43 L255.45 546.76 L257.19 547.07 L258.93 547.36 L260.67 547.64 L262.41 547.91 L264.15 548.16 L265.89 548.4 L267.63 548.62 L269.37 548.82 L271.1 549.01 L272.84 549.19 L274.58 549.35 L276.32 549.51 L278.06 549.66 L279.8 549.8 L281.54 549.94 L283.28 550.07 L285.02 550.21 L286.76 550.34 L288.5 550.48 L290.24 550.62 L291.98 550.77 L293.72 550.92 L295.46 551.08 L297.2 551.24 L298.94 551.4 L300.68 551.56 L302.42 551.72 L304.16 551.89 L305.89 552.05 L307.63 552.21 L309.37 552.38 L311.11 552.54 L312.85 552.71 L314.59 552.87 L316.33 553.03 L318.07 553.19 L319.81 553.34 L321.55 553.5 L323.29 553.65 L325.03 553.8 L326.77 553.94 L328.51 554.08 L330.25 554.22 L331.99 554.35 L333.73 554.48 L335.47 554.6 L337.21 554.71 L338.95 554.83 L340.68 554.94 L342.42 555.05 L344.16 555.16 L345.9 555.27 L347.64 555.38 L349.38 555.48 L351.12 555.59 L352.86 555.69 L354.6 555.8 L356.34 555.9 L358.08 556 L359.82 556.09 L361.56 556.19 L363.3 556.28 L365.04 556.38 L366.78 556.47 L368.52 556.56 L370.26 556.64 L372 556.73 L373.74 556.81 L375.47 556.89 L377.21 556.97 L378.95 557.04 L380.69 557.11 L382.43 557.19 L384.17 557.25 L385.91 557.32 L387.65 557.38 L389.39 557.44 L391.13 557.5"/>
<path stroke="#0000ff" stroke-dasharray="10.6 10.6" d="M114.55 496.5 L116.29 497.23 L118.03 497.96 L119.77 498.69 L121.51 499.42 L123.25 500.14 L124.99 500.86 L126.73 501.58 L128.47 502.29 L130.21 503 L131.94 503.71 L133.68 504.42 L135.42 505.13 L137.16 505.83 L138.9 506.53 L140.64 507.22 L142.38 507.92 L144.12 508.61 L145.86 509.29 L147.6 509.98 L149.34 510.66 L151.08 511.34 L152.82 512.02 L154.56 512.69 L156.3 513.36 L158.04 514.03 L159.78 514.69 L161.52 515.36 L163.26 516.01 L165 516.67 L166.73 517.33 L168.47 517.98 L170.21 518.64 L171.95 519.29 L173.69 519.94 L175.43 520.58 L177.17 521.23 L178.91 521.87 L180.65 522.51 L182.39 523.15 L184.13 523.78 L185.87 524.41 L187.61 525.04 L189.35 525.66 L191.09 526.28 L192.83 526.9 L194.57 527.51 L196.31 528.12 L198.05 528.72 L199.79 529.32 L201.52 529.91 L203.26 530.49 L205 531.08 L206.74 531.65 L208.48 532.22 L210.22 532.79 L211.96 533.37 L213.7 533.95 L215.44 534.53 L217.18 535.1 L218.92 535.68 L220.66 536.25 L222.4 536.82 L224.14 537.37 L225.88 537.92 L227.62 538.45 L229.36 538.97 L231.1 539.47 L232.84 539.96 L234.58 540.42 L236.31 540.86 L238.05 541.28 L239.79 541.67 L241.53 542.04 L243.27 542.41 L245.01 542.76 L246.75 543.1 L248.49 543.43 L250.23 543.76 L251.97 544.07 L253.71 544.37 L255.45 544.67 L257.19 544.95 L258.93 545.23 L260.67 545.49 L262.41 545.75 L264.15 545.99 L265.89 546.23 L267.63 546.46 L269.37 546.68 L271.1 546.89 L272.84 547.08 L274.58 547.27 L276.32 547.46 L278.06 547.63 L279.8 547.8 L281.54 547.97 L283.28 548.13 L285.02 548.3 L286.76 548.46 L288.5 548.62 L290.24 548.78 L291.98 548.95 L293.72 549.12 L295.46 549.29 L297.2 549.46 L298.94 549.63 L300.68 549.8 L302.42 549.98 L304.16 550.15 L305.89 550.33 L307.63 550.5 L309.37 550.67 L311.11 550.84 L312.85 551.01 L314.59 551.18 L316.33 551.35 L318.07 551.52 L319.81 551.68 L321.55 551.84 L323.29 551.99 L325.03 552.15 L326.77 552.3 L328.51 552.44 L330.25 552.58 L331.99 552.72 L333.73 552.85 L335.47 552.98 L337.21 553.1 L338.95 553.22 L340.68 553.34 L342.42 553.45 L344.16 553.57 L345.9 553.68 L347.64 553.8 L349.38 553.91 L351.12 554.02 L352.86 554.13 L354.6 554.23 L356.34 554.34 L358.08 554.44 L359.82 554.55 L361.56 554.65 L363.3 554.75 L365.04 554.84 L366.78 554.94 L368.52 555.03 L370.26 555.12 L372 555.21 L373.74 555.29 L375.47 555.38 L377.21 555.46 L378.95 555.54 L380.69 555.61 L382.43 555.69 L384.17 555.76 L385.91 555.83 L387.65 555.89 L389.39 555.95 L391.13 556.01"/>
<path stroke="#00ff00" stroke-dasharray="21.2 10.6" d="M114.55 494.7 L116.29 495.45 L118.03 496.21 L119.77 496.96 L121.51 497.7 L123.25 498.45 L124.99 499.19 L126.73 499.92 L128.47 500.66 L130.21 501.39 L131.94 502.12 L133.68 502.84 L135.42 503.57 L137.16 504.29 L138.9 505 L140.64 505.72 L142.38 506.43 L144.12 507.14 L145.86 507.84 L147.6 508.54 L149.34 509.24 L151.08 509.94 L152.82 510.63 L154.56 511.32 L156.3 512 L158.04 512.69 L159.78 513.37 L161.52 514.04 L163.26 514.71 L165 515.39 L166.73 516.06 L168.47 516.73 L170.21 517.39 L171.95 518.06 L173.69 518.72 L175.43 519.38 L177.17 520.04 L178.91 520.69 L180.65 521.34 L182.39 521.99 L184.13 522.64 L185.87 523.28 L187.61 523.92 L189.35 524.55 L191.09 525.18 L192.83 525.81 L194.57 526.43 L196.31 527.05 L198.05 527.66 L199.79 528.27 L201.52 528.87 L203.26 529.47 L205 530.06 L206.74 530.65 L208.48 531.23 L210.22 531.81 L211.96 532.39 L213.7 532.98 L215.44 533.57 L217.18 534.15 L218.92 534.74 L220.66 535.32 L222.4 535.89 L224.14 536.45 L225.88 537.01 L227.62 537.55 L229.36 538.08 L231.1 538.59 L232.84 539.08 L234.58 539.55 L236.31 540 L238.05 540.42 L239.79 540.82 L241.53 541.2 L243.27 541.57 L245.01 541.93 L246.75 542.28 L248.49 542.62 L250.23 542.95 L251.97 543.27 L253.71 543.58 L255.45 543.88 L257.19 544.17 L258.93 544.45 L260.67 544.72 L262.41 544.98 L264.15 545.24 L265.89 545.48 L267.63 545.71 L269.37 545.94 L271.1 546.15 L272.84 546.35 L274.58 546.55 L276.32 546.73 L278.06 546.92 L279.8 547.09 L281.54 547.26 L283.28 547.43 L285.02 547.6 L286.76 547.76 L288.5 547.93 L290.24 548.1 L291.98 548.27 L293.72 548.44 L295.46 548.62 L297.2 548.79 L298.94 548.97 L300.68 549.15 L302.42 549.32 L304.16 549.5 L305.89 549.68 L307.63 549.86 L309.37 550.03 L311.11 550.21 L312.85 550.38 L314.59 550.56 L316.33 550.73 L318.07 550.9 L319.81 551.06 L321.55 551.22 L323.29 551.38 L325.03 551.54 L326.77 551.69 L328.51 551.84 L330.25 551.99 L331.99 552.13 L333.73 552.26 L335.47 552.39 L337.21 552.51 L338.95 552.64 L340.68 552.76 L342.42 552.88 L344.16 552.99 L345.9 553.11 L347.64 553.23 L349.38 553.34 L351.12 553.45 L352.86 553.57 L354.6 553.68 L356.34 553.78 L358.08 553.89 L359.82 554 L361.56 554.1 L363.3 554.2 L365.04 554.3 L366.78 554.4 L368.52 554.49 L370.26 554.58 L372 554.67 L373.74 554.76 L375.47 554.85 L377.21 554.93 L378.95 555.01 L380.69 555.09 L382.43 555.16 L384.17 555.24 L385.91 555.31 L387.65 555.37 L389.39 555.44 L391.13 555.5"/>
<path stroke="#ff0000" stroke-width="1.95" stroke-dasharray="1.7 3.7" d="M114.55 560.5H391.13"/>
<path stroke="#ff0000" stroke-dasharray="12.2 4.7 2.4 4.7" stroke-dashoffset="2" d="M114.55 562.5 L116.29 562.59 L118.03 562.68 L119.77 562.77 L121.51 562.85 L123.25 562.94 L124.99 563.03 L126.73 563.12 L128.47 563.21 L130.21 563.3 L131.94 563.39 L133.68 563.48 L135.42 563.57 L137.16 563.66 L138.9 563.75 L140.64 563.84 L142.38 563.93 L144.12 564.02 L145.86 564.11 L147.6 564.2 L149.34 564.29 L151.08 564.39 L152.82 564.48 L154.56 564.57 L156.3 564.66 L158.04 564.75 L159.78 564.84 L161.52 564.94 L163.26 565.03 L165 565.12 L166.73 565.22 L168.47 565.31 L170.21 565.4 L171.95 565.5 L173.69 565.59 L175.43 565.68 L177.17 565.78 L178.91 565.87 L180.65 565.97 L182.39 566.06 L184.13 566.16 L185.87 566.25 L187.61 566.35 L189.35 566.44 L191.09 566.54 L192.83 566.63 L194.57 566.73 L196.31 566.82 L198.05 566.92 L199.79 567.01 L201.52 567.11 L203.26 567.2 L205 567.3 L206.74 567.39 L208.48 567.49 L210.22 567.58 L211.96 567.68 L213.7 567.77 L215.44 567.87 L217.18 567.96 L218.92 568.05 L220.66 568.15 L222.4 568.24 L224.14 568.34 L225.88 568.43 L227.62 568.53 L229.36 568.62 L231.1 568.72 L232.84 568.81 L234.58 568.91 L236.31 569.01 L238.05 569.11 L239.79 569.21 L241.53 569.3 L243.27 569.4 L245.01 569.49 L246.75 569.59 L248.49 569.68 L250.23 569.77 L251.97 569.87 L253.71 569.96 L255.45 570.06 L257.19 570.16 L258.93 570.26 L260.67 570.37 L262.41 570.48 L264.15 570.6 L265.89 570.72 L267.63 570.85 L269.37 570.98 L271.1 571.13 L272.84 571.28 L274.58 571.44 L276.32 571.61 L278.06 571.79 L279.8 571.97 L281.54 572.16 L283.28 572.35 L285.02 572.56 L286.76 572.76 L288.5 572.97 L290.24 573.19 L291.98 573.41 L293.72 573.63 L295.46 573.86 L297.2 574.09 L298.94 574.32 L300.68 574.55 L302.42 574.79 L304.16 575.02 L305.89 575.26 L307.63 575.5 L309.37 575.75 L311.11 576.01 L312.85 576.27 L314.59 576.53 L316.33 576.8 L318.07 577.07 L319.81 577.35 L321.55 577.63 L323.29 577.92 L325.03 578.21 L326.77 578.51 L328.51 578.8 L330.25 579.11 L331.99 579.42 L333.73 579.73 L335.47 580.05 L337.21 580.37 L338.95 580.69 L340.68 581.02 L342.42 581.35 L344.16 581.69 L345.9 582.03 L347.64 582.37 L349.38 582.72 L351.12 583.07 L352.86 583.44 L354.6 583.82 L356.34 584.2 L358.08 584.59 L359.82 584.99 L361.56 585.39 L363.3 585.8 L365.04 586.22 L366.78 586.64 L368.52 587.07 L370.26 587.5 L372 587.93 L373.74 588.37 L375.47 588.81 L377.21 589.25 L378.95 589.7 L380.69 590.15 L382.43 590.6 L384.17 591.05 L385.91 591.5 L387.65 591.95 L389.39 592.42 L391.13 592.9"/>
<path stroke="#ff0000" stroke-dasharray="17 5.4 2.2 5.4 2.2 5.4 2.2 5.4" stroke-dashoffset="2" d="M114.55 498.4 L116.05 498.84 L117.55 499.29 L119.05 499.77 L120.56 500.27 L122.06 500.79 L123.56 501.33 L125.06 501.88 L126.56 502.46 L128.06 503.04 L129.57 503.65 L131.07 504.26 L132.57 504.89 L134.07 505.53 L135.57 506.19 L137.07 506.85 L138.58 507.52 L140.08 508.2 L141.58 508.88 L143.08 509.58 L144.58 510.34 L146.08 511.16 L147.58 511.97 L149.09 512.74 L150.59 513.44 L152.09 514.11 L153.59 514.79 L155.09 515.5 L156.59 516.27 L158.1 517.08 L159.6 517.93 L161.1 518.78 L162.6 519.64 L164.1 520.51 L165.6 521.39 L167.11 522.28 L168.61 523.15 L170.11 524 L171.61 524.83 L173.11 525.67 L174.61 526.51 L176.11 527.35 L177.62 528.2 L179.12 529.04 L180.62 529.89 L182.12 530.74 L183.62 531.58 L185.12 532.42 L186.63 533.26 L188.13 534.12 L189.63 534.97 L191.13 535.84 L192.63 536.7 L194.13 537.56 L195.63 538.43 L197.14 539.3 L198.64 540.18 L200.14 541.06 L201.64 541.95 L203.14 542.85 L204.64 543.75 L206.15 544.66 L207.65 545.58 L209.15 546.52 L210.65 547.46 L212.15 548.42 L213.65 549.38 L215.16 550.36 L216.66 551.33 L218.16 552.31 L219.66 553.3 L221.16 554.28 L222.66 555.26 L224.16 556.24 L225.67 557.22 L227.17 558.19 L228.67 559.15 L230.17 560.11 L231.67 561.06 L233.17 562.01 L234.68 562.96 L236.18 563.91 L237.68 564.85 L239.18 565.79 L240.68 566.73 L242.18 567.67 L243.69 568.61 L245.19 569.54 L246.69 570.47 L248.19 571.39 L249.69 572.31 L251.19 573.22 L252.69 574.13 L254.2 575.02 L255.7 575.9 L257.2 576.78 L258.7 577.66 L260.2 578.55 L261.7 579.44 L263.21 580.34 L264.71 581.26 L266.21 582.19 L267.71 583.14 L269.21 584.11 L270.71 585.09 L272.22 586.08 L273.72 587.09 L275.22 588.1 L276.72 589.11 L278.22 590.13 L279.72 591.15 L281.22 592.18 L282.73 593.2 L284.23 594.22 L285.73 595.25 L287.23 596.28 L288.73 597.31 L290.23 598.35 L291.74 599.39 L293.24 600.43 L294.74 601.48 L296.24 602.53 L297.74 603.58 L299.24 604.64 L300.74 605.69 L302.25 606.75 L303.75 607.82 L305.25 608.89 L306.75 609.96 L308.25 611.04 L309.75 612.12 L311.26 613.21 L312.76 614.3 L314.26 615.39 L315.76 616.48 L317.26 617.58 L318.76 618.67 L320.27 619.76 L321.77 620.85 L323.27 621.94 L324.77 623.03 L326.27 624.12 L327.77 625.21 L329.27 626.3 L330.78 627.39 L332.28 628.48 L333.78 629.57 L335.28 630.66 L336.78 631.75 L338.28 632.85 L339.79 633.94 L341.29 635.03 L342.79 636.13 L344.29 637.22 L345.79 638.32 L347.29 639.41 L348.8 640.51 L350.3 641.61 L351.8 642.7 L353.3 643.8"/>
</g>
<g clip-path="url(#cp11)" fill="none" stroke-width="2.15">
<path stroke="#ff0000" d="M391.13 497.9 L392.87 498.78 L394.61 499.66 L396.35 500.52 L398.1 501.38 L399.84 502.24 L401.58 503.09 L403.32 503.93 L405.06 504.76 L406.8 505.58 L408.55 506.4 L410.29 507.21 L412.03 508.01 L413.77 508.81 L415.51 509.59 L417.25 510.37 L419 511.14 L420.74 511.91 L422.48 512.66 L424.22 513.41 L425.96 514.14 L427.7 514.87 L429.44 515.59 L431.19 516.31 L432.93 517.01 L434.67 517.7 L436.41 518.39 L438.15 519.06 L439.89 519.73 L441.64 520.38 L443.38 521.03 L445.12 521.67 L446.86 522.31 L448.6 522.93 L450.34 523.55 L452.09 524.16 L453.83 524.77 L455.57 525.37 L457.31 525.96 L459.05 526.54 L460.79 527.12 L462.53 527.7 L464.28 528.26 L466.02 528.83 L467.76 529.39 L469.5 529.94 L471.24 530.49 L472.98 531.04 L474.73 531.58 L476.47 532.11 L478.21 532.65 L479.95 533.18 L481.69 533.71 L483.43 534.23 L485.17 534.75 L486.92 535.27 L488.66 535.8 L490.4 536.32 L492.14 536.84 L493.88 537.37 L495.62 537.88 L497.37 538.39 L499.11 538.9 L500.85 539.4 L502.59 539.89 L504.33 540.37 L506.07 540.84 L507.82 541.29 L509.56 541.74 L511.3 542.16 L513.04 542.58 L514.78 542.97 L516.52 543.35 L518.26 543.71 L520.01 544.08 L521.75 544.44 L523.49 544.79 L525.23 545.14 L526.97 545.47 L528.71 545.8 L530.46 546.12 L532.2 546.42 L533.94 546.72 L535.68 546.99 L537.42 547.25 L539.16 547.5 L540.91 547.72 L542.65 547.93 L544.39 548.11 L546.13 548.29 L547.87 548.45 L549.61 548.6 L551.35 548.75 L553.1 548.88 L554.84 549.01 L556.58 549.14 L558.32 549.26 L560.06 549.38 L561.8 549.5 L563.55 549.62 L565.29 549.74 L567.03 549.87 L568.77 550 L570.51 550.13 L572.25 550.27 L574 550.4 L575.74 550.54 L577.48 550.67 L579.22 550.81 L580.96 550.95 L582.7 551.09 L584.44 551.22 L586.19 551.36 L587.93 551.5 L589.67 551.63 L591.41 551.77 L593.15 551.9 L594.89 552.03 L596.64 552.16 L598.38 552.29 L600.12 552.41 L601.86 552.54 L603.6 552.66 L605.34 552.77 L607.08 552.89 L608.83 553 L610.57 553.11 L612.31 553.21 L614.05 553.31 L615.79 553.41 L617.53 553.51 L619.28 553.61 L621.02 553.7 L622.76 553.8 L624.5 553.89 L626.24 553.99 L627.98 554.08 L629.73 554.17 L631.47 554.26 L633.21 554.35 L634.95 554.44 L636.69 554.52 L638.43 554.61 L640.17 554.69 L641.92 554.77 L643.66 554.85 L645.4 554.93 L647.14 555.01 L648.88 555.08 L650.62 555.16 L652.37 555.23 L654.11 555.3 L655.85 555.37 L657.59 555.44 L659.33 555.5 L661.07 555.57 L662.82 555.63 L664.56 555.69 L666.3 555.74 L668.04 555.8"/>
<path stroke="#0000ff" stroke-dasharray="10.6 10.6" d="M391.13 498.2 L392.87 498.95 L394.61 499.7 L396.35 500.44 L398.1 501.18 L399.84 501.91 L401.58 502.64 L403.32 503.37 L405.06 504.1 L406.8 504.82 L408.55 505.53 L410.29 506.24 L412.03 506.95 L413.77 507.66 L415.51 508.36 L417.25 509.05 L419 509.74 L420.74 510.43 L422.48 511.11 L424.22 511.79 L425.96 512.47 L427.7 513.14 L429.44 513.81 L431.19 514.47 L432.93 515.12 L434.67 515.78 L436.41 516.43 L438.15 517.07 L439.89 517.71 L441.64 518.34 L443.38 518.98 L445.12 519.61 L446.86 520.24 L448.6 520.86 L450.34 521.48 L452.09 522.1 L453.83 522.71 L455.57 523.32 L457.31 523.93 L459.05 524.53 L460.79 525.13 L462.53 525.73 L464.28 526.32 L466.02 526.9 L467.76 527.48 L469.5 528.06 L471.24 528.63 L472.98 529.19 L474.73 529.76 L476.47 530.31 L478.21 530.86 L479.95 531.41 L481.69 531.94 L483.43 532.48 L485.17 533 L486.92 533.53 L488.66 534.06 L490.4 534.58 L492.14 535.11 L493.88 535.63 L495.62 536.14 L497.37 536.65 L499.11 537.16 L500.85 537.66 L502.59 538.14 L504.33 538.62 L506.07 539.09 L507.82 539.54 L509.56 539.99 L511.3 540.41 L513.04 540.82 L514.78 541.21 L516.52 541.59 L518.26 541.95 L520.01 542.31 L521.75 542.66 L523.49 543.01 L525.23 543.35 L526.97 543.68 L528.71 544 L530.46 544.31 L532.2 544.61 L533.94 544.9 L535.68 545.17 L537.42 545.43 L539.16 545.68 L540.91 545.91 L542.65 546.13 L544.39 546.32 L546.13 546.51 L547.87 546.69 L549.61 546.86 L551.35 547.02 L553.1 547.17 L554.84 547.32 L556.58 547.46 L558.32 547.6 L560.06 547.74 L561.8 547.87 L563.55 548 L565.29 548.13 L567.03 548.26 L568.77 548.4 L570.51 548.53 L572.25 548.66 L574 548.79 L575.74 548.92 L577.48 549.05 L579.22 549.18 L580.96 549.3 L582.7 549.43 L584.44 549.55 L586.19 549.68 L587.93 549.8 L589.67 549.92 L591.41 550.04 L593.15 550.16 L594.89 550.27 L596.64 550.39 L598.38 550.5 L600.12 550.62 L601.86 550.73 L603.6 550.84 L605.34 550.95 L607.08 551.06 L608.83 551.17 L610.57 551.27 L612.31 551.38 L614.05 551.48 L615.79 551.58 L617.53 551.68 L619.28 551.78 L621.02 551.88 L622.76 551.98 L624.5 552.08 L626.24 552.18 L627.98 552.28 L629.73 552.37 L631.47 552.47 L633.21 552.56 L634.95 552.66 L636.69 552.75 L638.43 552.84 L640.17 552.94 L641.92 553.03 L643.66 553.12 L645.4 553.21 L647.14 553.29 L648.88 553.38 L650.62 553.47 L652.37 553.55 L654.11 553.63 L655.85 553.72 L657.59 553.8 L659.33 553.88 L661.07 553.96 L662.82 554.03 L664.56 554.11 L666.3 554.19 L668.04 554.26"/>
<path stroke="#00ff00" stroke-dasharray="21.2 10.6" d="M391.13 495.8 L392.87 496.58 L394.61 497.36 L396.35 498.13 L398.1 498.9 L399.84 499.66 L401.58 500.43 L403.32 501.18 L405.06 501.93 L406.8 502.68 L408.55 503.42 L410.29 504.16 L412.03 504.9 L413.77 505.63 L415.51 506.35 L417.25 507.07 L419 507.79 L420.74 508.5 L422.48 509.21 L424.22 509.91 L425.96 510.61 L427.7 511.3 L429.44 511.99 L431.19 512.68 L432.93 513.36 L434.67 514.03 L436.41 514.7 L438.15 515.36 L439.89 516.02 L441.64 516.68 L443.38 517.33 L445.12 517.98 L446.86 518.63 L448.6 519.27 L450.34 519.91 L452.09 520.55 L453.83 521.18 L455.57 521.81 L457.31 522.43 L459.05 523.05 L460.79 523.67 L462.53 524.28 L464.28 524.89 L466.02 525.49 L467.76 526.09 L469.5 526.68 L471.24 527.26 L472.98 527.84 L474.73 528.42 L476.47 528.99 L478.21 529.56 L479.95 530.11 L481.69 530.67 L483.43 531.21 L485.17 531.75 L486.92 532.29 L488.66 532.83 L490.4 533.37 L492.14 533.91 L493.88 534.44 L495.62 534.97 L497.37 535.49 L499.11 536.01 L500.85 536.52 L502.59 537.02 L504.33 537.51 L506.07 537.99 L507.82 538.45 L509.56 538.9 L511.3 539.34 L513.04 539.76 L514.78 540.16 L516.52 540.55 L518.26 540.92 L520.01 541.29 L521.75 541.65 L523.49 542.01 L525.23 542.36 L526.97 542.7 L528.71 543.03 L530.46 543.35 L532.2 543.66 L533.94 543.95 L535.68 544.23 L537.42 544.5 L539.16 544.76 L540.91 545 L542.65 545.22 L544.39 545.43 L546.13 545.62 L547.87 545.81 L549.61 545.98 L551.35 546.15 L553.1 546.31 L554.84 546.47 L556.58 546.62 L558.32 546.76 L560.06 546.91 L561.8 547.05 L563.55 547.18 L565.29 547.32 L567.03 547.46 L568.77 547.6 L570.51 547.74 L572.25 547.88 L574 548.01 L575.74 548.15 L577.48 548.28 L579.22 548.42 L580.96 548.55 L582.7 548.68 L584.44 548.81 L586.19 548.94 L587.93 549.06 L589.67 549.19 L591.41 549.32 L593.15 549.44 L594.89 549.56 L596.64 549.68 L598.38 549.8 L600.12 549.92 L601.86 550.04 L603.6 550.15 L605.34 550.27 L607.08 550.38 L608.83 550.49 L610.57 550.6 L612.31 550.71 L614.05 550.82 L615.79 550.92 L617.53 551.03 L619.28 551.13 L621.02 551.24 L622.76 551.34 L624.5 551.44 L626.24 551.54 L627.98 551.65 L629.73 551.75 L631.47 551.84 L633.21 551.94 L634.95 552.04 L636.69 552.14 L638.43 552.23 L640.17 552.33 L641.92 552.42 L643.66 552.51 L645.4 552.61 L647.14 552.7 L648.88 552.79 L650.62 552.88 L652.37 552.96 L654.11 553.05 L655.85 553.14 L657.59 553.22 L659.33 553.3 L661.07 553.38 L662.82 553.47 L664.56 553.54 L666.3 553.62 L668.04 553.7"/>
<path stroke="#ff0000" stroke-width="1.95" stroke-dasharray="1.7 3.7" d="M391.13 557.5H668.04"/>
<path stroke="#ff0000" stroke-dasharray="12.2 4.7 2.4 4.7" stroke-dashoffset="2" d="M391.13 569.5 L392.87 569.53 L394.61 569.55 L396.35 569.58 L398.1 569.61 L399.84 569.64 L401.58 569.67 L403.32 569.7 L405.06 569.73 L406.8 569.76 L408.55 569.8 L410.29 569.83 L412.03 569.87 L413.77 569.9 L415.51 569.94 L417.25 569.98 L419 570.02 L420.74 570.05 L422.48 570.09 L424.22 570.13 L425.96 570.17 L427.7 570.21 L429.44 570.26 L431.19 570.3 L432.93 570.34 L434.67 570.38 L436.41 570.43 L438.15 570.47 L439.89 570.52 L441.64 570.56 L443.38 570.61 L445.12 570.66 L446.86 570.71 L448.6 570.76 L450.34 570.81 L452.09 570.86 L453.83 570.91 L455.57 570.97 L457.31 571.02 L459.05 571.08 L460.79 571.14 L462.53 571.2 L464.28 571.26 L466.02 571.32 L467.76 571.38 L469.5 571.44 L471.24 571.5 L472.98 571.56 L474.73 571.62 L476.47 571.69 L478.21 571.75 L479.95 571.81 L481.69 571.88 L483.43 571.94 L485.17 572.01 L486.92 572.07 L488.66 572.14 L490.4 572.2 L492.14 572.27 L493.88 572.33 L495.62 572.4 L497.37 572.47 L499.11 572.54 L500.85 572.61 L502.59 572.68 L504.33 572.75 L506.07 572.82 L507.82 572.9 L509.56 572.98 L511.3 573.06 L513.04 573.14 L514.78 573.22 L516.52 573.31 L518.26 573.4 L520.01 573.49 L521.75 573.59 L523.49 573.69 L525.23 573.79 L526.97 573.9 L528.71 574.01 L530.46 574.12 L532.2 574.23 L533.94 574.34 L535.68 574.46 L537.42 574.58 L539.16 574.7 L540.91 574.83 L542.65 574.95 L544.39 575.08 L546.13 575.21 L547.87 575.34 L549.61 575.47 L551.35 575.61 L553.1 575.75 L554.84 575.89 L556.58 576.03 L558.32 576.18 L560.06 576.33 L561.8 576.48 L563.55 576.63 L565.29 576.79 L567.03 576.95 L568.77 577.11 L570.51 577.27 L572.25 577.44 L574 577.61 L575.74 577.78 L577.48 577.96 L579.22 578.14 L580.96 578.32 L582.7 578.5 L584.44 578.69 L586.19 578.88 L587.93 579.08 L589.67 579.28 L591.41 579.48 L593.15 579.69 L594.89 579.9 L596.64 580.12 L598.38 580.34 L600.12 580.56 L601.86 580.79 L603.6 581.03 L605.34 581.27 L607.08 581.51 L608.83 581.76 L610.57 582.02 L612.31 582.27 L614.05 582.54 L615.79 582.81 L617.53 583.09 L619.28 583.38 L621.02 583.68 L622.76 583.99 L624.5 584.3 L626.24 584.62 L627.98 584.95 L629.73 585.29 L631.47 585.63 L633.21 585.98 L634.95 586.34 L636.69 586.7 L638.43 587.07 L640.17 587.44 L641.92 587.82 L643.66 588.22 L645.4 588.62 L647.14 589.04 L648.88 589.47 L650.62 589.91 L652.37 590.35 L654.11 590.8 L655.85 591.25 L657.59 591.71 L659.33 592.17 L661.07 592.63 L662.82 593.08 L664.56 593.55 L666.3 594.02 L668.04 594.5"/>
<path stroke="#ff0000" stroke-dasharray="17 5.4 2.2 5.4 2.2 5.4 2.2 5.4" stroke-dashoffset="2" d="M391.13 499.4 L392.63 499.83 L394.13 500.29 L395.63 500.77 L397.14 501.26 L398.64 501.77 L400.14 502.3 L401.64 502.85 L403.14 503.41 L404.64 503.99 L406.15 504.58 L407.65 505.18 L409.15 505.8 L410.65 506.43 L412.15 507.06 L413.65 507.71 L415.16 508.36 L416.66 509.03 L418.16 509.7 L419.66 510.37 L421.16 511.12 L422.66 511.91 L424.16 512.7 L425.67 513.44 L427.17 514.12 L428.67 514.76 L430.17 515.41 L431.67 516.1 L433.17 516.85 L434.68 517.64 L436.18 518.47 L437.68 519.31 L439.18 520.14 L440.68 520.98 L442.18 521.84 L443.69 522.7 L445.19 523.55 L446.69 524.39 L448.19 525.23 L449.69 526.07 L451.19 526.91 L452.69 527.75 L454.2 528.6 L455.7 529.45 L457.2 530.3 L458.7 531.13 L460.2 531.96 L461.7 532.78 L463.21 533.6 L464.71 534.42 L466.21 535.27 L467.71 536.11 L469.21 536.97 L470.71 537.82 L472.21 538.68 L473.72 539.55 L475.22 540.42 L476.72 541.3 L478.22 542.18 L479.72 543.07 L481.22 543.96 L482.73 544.86 L484.23 545.78 L485.73 546.7 L487.23 547.63 L488.73 548.57 L490.23 549.52 L491.74 550.48 L493.24 551.44 L494.74 552.41 L496.24 553.37 L497.74 554.34 L499.24 555.31 L500.74 556.28 L502.25 557.24 L503.75 558.2 L505.25 559.16 L506.75 560.11 L508.25 561.05 L509.75 562 L511.26 562.95 L512.76 563.89 L514.26 564.84 L515.76 565.78 L517.26 566.72 L518.76 567.66 L520.27 568.6 L521.77 569.53 L523.27 570.46 L524.77 571.39 L526.27 572.31 L527.77 573.22 L529.27 574.13 L530.78 575.02 L532.28 575.9 L533.78 576.78 L535.28 577.66 L536.78 578.55 L538.28 579.44 L539.79 580.34 L541.29 581.26 L542.79 582.19 L544.29 583.14 L545.79 584.11 L547.29 585.09 L548.8 586.08 L550.3 587.09 L551.8 588.1 L553.3 589.11 L554.8 590.13 L556.3 591.15 L557.8 592.18 L559.31 593.2 L560.81 594.22 L562.31 595.25 L563.81 596.28 L565.31 597.31 L566.81 598.35 L568.32 599.39 L569.82 600.43 L571.32 601.48 L572.82 602.53 L574.32 603.58 L575.82 604.64 L577.32 605.69 L578.83 606.75 L580.33 607.82 L581.83 608.89 L583.33 609.96 L584.83 611.04 L586.33 612.12 L587.84 613.21 L589.34 614.3 L590.84 615.39 L592.34 616.48 L593.84 617.58 L595.34 618.67 L596.85 619.76 L598.35 620.85 L599.85 621.94 L601.35 623.03 L602.85 624.12 L604.35 625.21 L605.85 626.3 L607.36 627.39 L608.86 628.48 L610.36 629.57 L611.86 630.66 L613.36 631.75 L614.86 632.85 L616.37 633.94 L617.87 635.03 L619.37 636.13 L620.87 637.22 L622.37 638.32 L623.87 639.41 L625.38 640.51 L626.88 641.61 L628.38 642.7 L629.88 643.8"/>
</g>
<g clip-path="url(#cp12)" fill="none" stroke-width="2.15">
<path stroke="#ff0000" d="M668.04 507 L669.78 507.81 L671.52 508.62 L673.26 509.42 L675.01 510.21 L676.75 511.01 L678.49 511.79 L680.23 512.57 L681.97 513.35 L683.71 514.12 L685.46 514.89 L687.2 515.65 L688.94 516.4 L690.68 517.15 L692.42 517.9 L694.16 518.64 L695.91 519.37 L697.65 520.1 L699.39 520.82 L701.13 521.54 L702.87 522.25 L704.61 522.96 L706.35 523.66 L708.1 524.35 L709.84 525.04 L711.58 525.72 L713.32 526.4 L715.06 527.07 L716.8 527.73 L718.55 528.39 L720.29 529.05 L722.03 529.7 L723.77 530.35 L725.51 531 L727.25 531.64 L729 532.28 L730.74 532.91 L732.48 533.54 L734.22 534.17 L735.96 534.79 L737.7 535.4 L739.44 536.01 L741.19 536.61 L742.93 537.21 L744.67 537.8 L746.41 538.38 L748.15 538.96 L749.89 539.53 L751.64 540.1 L753.38 540.65 L755.12 541.2 L756.86 541.75 L758.6 542.28 L760.34 542.81 L762.08 543.33 L763.83 543.84 L765.57 544.35 L767.31 544.86 L769.05 545.37 L770.79 545.87 L772.53 546.37 L774.28 546.86 L776.02 547.34 L777.76 547.81 L779.5 548.28 L781.24 548.73 L782.98 549.17 L784.73 549.6 L786.47 550.02 L788.21 550.42 L789.95 550.81 L791.69 551.18 L793.43 551.53 L795.17 551.86 L796.92 552.19 L798.66 552.52 L800.4 552.83 L802.14 553.13 L803.88 553.43 L805.62 553.72 L807.37 553.99 L809.11 554.27 L810.85 554.53 L812.59 554.78 L814.33 555.03 L816.07 555.26 L817.82 555.49 L819.56 555.71 L821.3 555.92 L823.04 556.12 L824.78 556.32 L826.52 556.51 L828.26 556.7 L830.01 556.87 L831.75 557.05 L833.49 557.22 L835.23 557.38 L836.97 557.54 L838.71 557.7 L840.46 557.85 L842.2 558 L843.94 558.15 L845.68 558.3 L847.42 558.44 L849.16 558.59 L850.91 558.73 L852.65 558.87 L854.39 559.01 L856.13 559.15 L857.87 559.29 L859.61 559.43 L861.35 559.56 L863.1 559.69 L864.84 559.82 L866.58 559.95 L868.32 560.08 L870.06 560.2 L871.8 560.33 L873.55 560.45 L875.29 560.57 L877.03 560.68 L878.77 560.79 L880.51 560.91 L882.25 561.01 L883.99 561.12 L885.74 561.22 L887.48 561.32 L889.22 561.42 L890.96 561.51 L892.7 561.61 L894.44 561.7 L896.19 561.79 L897.93 561.88 L899.67 561.97 L901.41 562.06 L903.15 562.14 L904.89 562.23 L906.64 562.32 L908.38 562.4 L910.12 562.48 L911.86 562.56 L913.6 562.64 L915.34 562.72 L917.08 562.8 L918.83 562.88 L920.57 562.95 L922.31 563.02 L924.05 563.09 L925.79 563.16 L927.53 563.23 L929.28 563.3 L931.02 563.36 L932.76 563.42 L934.5 563.48 L936.24 563.54 L937.98 563.6 L939.73 563.65 L941.47 563.7 L943.21 563.75 L944.95 563.8"/>
<path stroke="#0000ff" stroke-dasharray="10.6 10.6" d="M668.04 507.7 L669.78 508.37 L671.52 509.04 L673.26 509.71 L675.01 510.38 L676.75 511.05 L678.49 511.71 L680.23 512.38 L681.97 513.04 L683.71 513.7 L685.46 514.36 L687.2 515.02 L688.94 515.67 L690.68 516.33 L692.42 516.98 L694.16 517.63 L695.91 518.28 L697.65 518.93 L699.39 519.58 L701.13 520.22 L702.87 520.86 L704.61 521.5 L706.35 522.14 L708.1 522.78 L709.84 523.42 L711.58 524.05 L713.32 524.68 L715.06 525.31 L716.8 525.94 L718.55 526.57 L720.29 527.2 L722.03 527.84 L723.77 528.47 L725.51 529.11 L727.25 529.74 L729 530.38 L730.74 531.01 L732.48 531.64 L734.22 532.27 L735.96 532.9 L737.7 533.52 L739.44 534.14 L741.19 534.76 L742.93 535.37 L744.67 535.98 L746.41 536.58 L748.15 537.17 L749.89 537.76 L751.64 538.34 L753.38 538.92 L755.12 539.48 L756.86 540.04 L758.6 540.59 L760.34 541.13 L762.08 541.66 L763.83 542.18 L765.57 542.7 L767.31 543.22 L769.05 543.74 L770.79 544.25 L772.53 544.76 L774.28 545.26 L776.02 545.76 L777.76 546.24 L779.5 546.72 L781.24 547.19 L782.98 547.64 L784.73 548.08 L786.47 548.51 L788.21 548.93 L789.95 549.33 L791.69 549.71 L793.43 550.08 L795.17 550.44 L796.92 550.79 L798.66 551.13 L800.4 551.46 L802.14 551.79 L803.88 552.11 L805.62 552.42 L807.37 552.72 L809.11 553.01 L810.85 553.29 L812.59 553.56 L814.33 553.82 L816.07 554.06 L817.82 554.29 L819.56 554.51 L821.3 554.72 L823.04 554.92 L824.78 555.1 L826.52 555.29 L828.26 555.46 L830.01 555.63 L831.75 555.79 L833.49 555.95 L835.23 556.1 L836.97 556.24 L838.71 556.38 L840.46 556.52 L842.2 556.66 L843.94 556.79 L845.68 556.91 L847.42 557.04 L849.16 557.16 L850.91 557.29 L852.65 557.41 L854.39 557.52 L856.13 557.64 L857.87 557.75 L859.61 557.87 L861.35 557.98 L863.1 558.08 L864.84 558.19 L866.58 558.29 L868.32 558.4 L870.06 558.5 L871.8 558.6 L873.55 558.7 L875.29 558.79 L877.03 558.89 L878.77 558.98 L880.51 559.07 L882.25 559.16 L883.99 559.25 L885.74 559.34 L887.48 559.42 L889.22 559.51 L890.96 559.59 L892.7 559.67 L894.44 559.75 L896.19 559.83 L897.93 559.91 L899.67 559.99 L901.41 560.07 L903.15 560.15 L904.89 560.22 L906.64 560.3 L908.38 560.37 L910.12 560.45 L911.86 560.52 L913.6 560.59 L915.34 560.67 L917.08 560.74 L918.83 560.8 L920.57 560.87 L922.31 560.94 L924.05 561.01 L925.79 561.07 L927.53 561.13 L929.28 561.2 L931.02 561.26 L932.76 561.32 L934.5 561.37 L936.24 561.43 L937.98 561.48 L939.73 561.54 L941.47 561.59 L943.21 561.64 L944.95 561.69"/>
<path stroke="#00ff00" stroke-dasharray="21.2 10.6" d="M668.04 503.7 L669.78 504.43 L671.52 505.16 L673.26 505.88 L675.01 506.6 L676.75 507.32 L678.49 508.04 L680.23 508.76 L681.97 509.47 L683.71 510.18 L685.46 510.89 L687.2 511.59 L688.94 512.3 L690.68 513 L692.42 513.7 L694.16 514.39 L695.91 515.09 L697.65 515.78 L699.39 516.47 L701.13 517.16 L702.87 517.84 L704.61 518.52 L706.35 519.2 L708.1 519.88 L709.84 520.56 L711.58 521.23 L713.32 521.9 L715.06 522.57 L716.8 523.23 L718.55 523.9 L720.29 524.56 L722.03 525.23 L723.77 525.9 L725.51 526.57 L727.25 527.24 L729 527.91 L730.74 528.57 L732.48 529.24 L734.22 529.9 L735.96 530.56 L737.7 531.21 L739.44 531.86 L741.19 532.51 L742.93 533.15 L744.67 533.78 L746.41 534.41 L748.15 535.04 L749.89 535.65 L751.64 536.26 L753.38 536.86 L755.12 537.45 L756.86 538.04 L758.6 538.61 L760.34 539.17 L762.08 539.73 L763.83 540.27 L765.57 540.82 L767.31 541.36 L769.05 541.9 L770.79 542.44 L772.53 542.97 L774.28 543.49 L776.02 544.01 L777.76 544.52 L779.5 545.01 L781.24 545.5 L782.98 545.98 L784.73 546.44 L786.47 546.89 L788.21 547.32 L789.95 547.74 L791.69 548.14 L793.43 548.53 L795.17 548.9 L796.92 549.27 L798.66 549.63 L800.4 549.98 L802.14 550.33 L803.88 550.66 L805.62 550.99 L807.37 551.31 L809.11 551.61 L810.85 551.91 L812.59 552.19 L814.33 552.47 L816.07 552.73 L817.82 552.97 L819.56 553.2 L821.3 553.42 L823.04 553.64 L824.78 553.84 L826.52 554.03 L828.26 554.22 L830.01 554.4 L831.75 554.58 L833.49 554.75 L835.23 554.91 L836.97 555.07 L838.71 555.22 L840.46 555.37 L842.2 555.52 L843.94 555.66 L845.68 555.8 L847.42 555.94 L849.16 556.07 L850.91 556.2 L852.65 556.33 L854.39 556.46 L856.13 556.59 L857.87 556.71 L859.61 556.83 L861.35 556.95 L863.1 557.07 L864.84 557.19 L866.58 557.3 L868.32 557.41 L870.06 557.53 L871.8 557.63 L873.55 557.74 L875.29 557.85 L877.03 557.95 L878.77 558.05 L880.51 558.15 L882.25 558.25 L883.99 558.34 L885.74 558.44 L887.48 558.53 L889.22 558.62 L890.96 558.71 L892.7 558.8 L894.44 558.89 L896.19 558.98 L897.93 559.07 L899.67 559.15 L901.41 559.24 L903.15 559.32 L904.89 559.41 L906.64 559.49 L908.38 559.57 L910.12 559.65 L911.86 559.73 L913.6 559.81 L915.34 559.89 L917.08 559.96 L918.83 560.04 L920.57 560.11 L922.31 560.18 L924.05 560.25 L925.79 560.32 L927.53 560.39 L929.28 560.46 L931.02 560.53 L932.76 560.59 L934.5 560.65 L936.24 560.72 L937.98 560.78 L939.73 560.83 L941.47 560.89 L943.21 560.95 L944.95 561"/>
<path stroke="#ff0000" stroke-width="1.95" stroke-dasharray="1.7 3.7" d="M668.04 564.5H944.95"/>
<path stroke="#ff0000" stroke-dasharray="12.2 4.7 2.4 4.7" stroke-dashoffset="2" d="M668.04 580.8 L669.78 580.84 L671.52 580.88 L673.26 580.92 L675.01 580.96 L676.75 581 L678.49 581.05 L680.23 581.09 L681.97 581.13 L683.71 581.17 L685.46 581.21 L687.2 581.26 L688.94 581.3 L690.68 581.34 L692.42 581.39 L694.16 581.43 L695.91 581.47 L697.65 581.52 L699.39 581.56 L701.13 581.61 L702.87 581.65 L704.61 581.7 L706.35 581.74 L708.1 581.79 L709.84 581.83 L711.58 581.88 L713.32 581.92 L715.06 581.97 L716.8 582.02 L718.55 582.06 L720.29 582.11 L722.03 582.16 L723.77 582.21 L725.51 582.26 L727.25 582.31 L729 582.36 L730.74 582.42 L732.48 582.47 L734.22 582.52 L735.96 582.57 L737.7 582.63 L739.44 582.68 L741.19 582.73 L742.93 582.78 L744.67 582.84 L746.41 582.89 L748.15 582.94 L749.89 582.99 L751.64 583.03 L753.38 583.08 L755.12 583.13 L756.86 583.17 L758.6 583.22 L760.34 583.26 L762.08 583.3 L763.83 583.34 L765.57 583.38 L767.31 583.41 L769.05 583.45 L770.79 583.48 L772.53 583.51 L774.28 583.54 L776.02 583.57 L777.76 583.6 L779.5 583.63 L781.24 583.66 L782.98 583.7 L784.73 583.73 L786.47 583.77 L788.21 583.81 L789.95 583.85 L791.69 583.89 L793.43 583.94 L795.17 583.99 L796.92 584.04 L798.66 584.1 L800.4 584.16 L802.14 584.22 L803.88 584.28 L805.62 584.35 L807.37 584.42 L809.11 584.49 L810.85 584.56 L812.59 584.64 L814.33 584.72 L816.07 584.8 L817.82 584.88 L819.56 584.96 L821.3 585.05 L823.04 585.14 L824.78 585.23 L826.52 585.32 L828.26 585.41 L830.01 585.51 L831.75 585.61 L833.49 585.71 L835.23 585.82 L836.97 585.93 L838.71 586.04 L840.46 586.15 L842.2 586.27 L843.94 586.39 L845.68 586.51 L847.42 586.63 L849.16 586.76 L850.91 586.89 L852.65 587.03 L854.39 587.16 L856.13 587.3 L857.87 587.45 L859.61 587.59 L861.35 587.74 L863.1 587.9 L864.84 588.05 L866.58 588.21 L868.32 588.38 L870.06 588.55 L871.8 588.74 L873.55 588.94 L875.29 589.15 L877.03 589.37 L878.77 589.6 L880.51 589.83 L882.25 590.07 L883.99 590.32 L885.74 590.57 L887.48 590.82 L889.22 591.08 L890.96 591.34 L892.7 591.61 L894.44 591.88 L896.19 592.16 L897.93 592.46 L899.67 592.75 L901.41 593.06 L903.15 593.37 L904.89 593.69 L906.64 594.01 L908.38 594.34 L910.12 594.66 L911.86 595 L913.6 595.33 L915.34 595.67 L917.08 596.01 L918.83 596.35 L920.57 596.7 L922.31 597.06 L924.05 597.42 L925.79 597.79 L927.53 598.16 L929.28 598.53 L931.02 598.91 L932.76 599.29 L934.5 599.68 L936.24 600.06 L937.98 600.46 L939.73 600.85 L941.47 601.26 L943.21 601.68 L944.95 602.1"/>
<path stroke="#ff0000" stroke-dasharray="17 5.4 2.2 5.4 2.2 5.4 2.2 5.4" stroke-dashoffset="2" d="M668.04 509.3 L669.49 509.84 L670.94 510.38 L672.38 510.92 L673.83 511.47 L675.28 512.02 L676.73 512.57 L678.17 513.13 L679.62 513.69 L681.07 514.25 L682.52 514.82 L683.96 515.38 L685.41 515.96 L686.86 516.53 L688.31 517.11 L689.75 517.68 L691.2 518.27 L692.65 518.85 L694.1 519.44 L695.54 520.02 L696.99 520.61 L698.44 521.19 L699.89 521.78 L701.33 522.37 L702.78 522.96 L704.23 523.55 L705.68 524.15 L707.12 524.76 L708.57 525.38 L710.02 526 L711.47 526.64 L712.91 527.28 L714.36 527.94 L715.81 528.62 L717.26 529.31 L718.7 530.03 L720.15 530.77 L721.6 531.53 L723.05 532.3 L724.49 533.08 L725.94 533.87 L727.39 534.65 L728.84 535.43 L730.28 536.2 L731.73 536.99 L733.18 537.77 L734.63 538.56 L736.07 539.35 L737.52 540.15 L738.97 540.94 L740.42 541.73 L741.86 542.51 L743.31 543.29 L744.76 544.06 L746.21 544.83 L747.66 545.58 L749.1 546.34 L750.55 547.1 L752 547.85 L753.45 548.61 L754.89 549.38 L756.34 550.16 L757.79 550.94 L759.24 551.74 L760.68 552.55 L762.13 553.38 L763.58 554.22 L765.03 555.09 L766.47 555.98 L767.92 556.88 L769.37 557.8 L770.82 558.72 L772.26 559.65 L773.71 560.58 L775.16 561.51 L776.61 562.43 L778.05 563.35 L779.5 564.26 L780.95 565.16 L782.4 566.04 L783.84 566.89 L785.29 567.73 L786.74 568.56 L788.19 569.4 L789.63 570.25 L791.08 571.13 L792.53 572.04 L793.98 572.98 L795.42 573.96 L796.87 574.96 L798.32 575.97 L799.77 577 L801.21 578.04 L802.66 579.07 L804.11 580.11 L805.56 581.13 L807 582.14 L808.45 583.13 L809.9 584.1 L811.35 585.07 L812.79 586.03 L814.24 586.97 L815.69 587.92 L817.14 588.86 L818.58 589.79 L820.03 590.72 L821.48 591.65 L822.93 592.58 L824.38 593.51 L825.82 594.44 L827.27 595.36 L828.72 596.3 L830.17 597.23 L831.61 598.17 L833.06 599.11 L834.51 600.05 L835.96 601.01 L837.4 601.97 L838.85 602.93 L840.3 603.9 L841.75 604.87 L843.19 605.85 L844.64 606.83 L846.09 607.81 L847.54 608.79 L848.98 609.78 L850.43 610.77 L851.88 611.76 L853.33 612.75 L854.77 613.74 L856.22 614.74 L857.67 615.73 L859.12 616.72 L860.56 617.72 L862.01 618.71 L863.46 619.7 L864.91 620.7 L866.35 621.69 L867.8 622.68 L869.25 623.67 L870.7 624.66 L872.14 625.64 L873.59 626.63 L875.04 627.61 L876.49 628.59 L877.93 629.56 L879.38 630.54 L880.83 631.51 L882.28 632.49 L883.72 633.46 L885.17 634.44 L886.62 635.41 L888.07 636.39 L889.51 637.37 L890.96 638.35 L892.41 639.33 L893.86 640.31 L895.3 641.3 L896.75 642.3 L898.2 643.3"/>
</g>
<g font-family="'Liberation Sans', sans-serif" font-size="16" fill="#000" stroke="#000" stroke-width="0.3">
<text x="85.1" y="346.85">10</text>
<text x="102.9" y="337.7" font-size="10.4">0</text>
<text x="85.1" y="298.62">10</text>
<text x="102.9" y="289.48" font-size="10.4">1</text>
<text x="85.1" y="242.95">10</text>
<text x="102.9" y="233.8" font-size="10.4">2</text>
<text x="85.1" y="187.28">10</text>
<text x="102.9" y="178.12" font-size="10.4">3</text>
<text x="85.1" y="131.6">10</text>
<text x="102.9" y="122.45" font-size="10.4">4</text>
<text x="85.1" y="75.93">10</text>
<text x="102.9" y="66.78" font-size="10.4">5</text>
<text x="85.1" y="25.7">10</text>
<text x="102.9" y="16.55" font-size="10.4">6</text>
<text x="85.1" y="642.7">10</text>
<text x="102.9" y="633.55" font-size="10.4">0</text>
<text x="85.1" y="601.18">10</text>
<text x="102.9" y="592.03" font-size="10.4">1</text>
<text x="85.1" y="551.8">10</text>
<text x="102.9" y="542.65" font-size="10.4">2</text>
<text x="85.1" y="502.43">10</text>
<text x="102.9" y="493.28" font-size="10.4">3</text>
<text x="85.1" y="453.05">10</text>
<text x="102.9" y="443.9" font-size="10.4">4</text>
<text x="85.1" y="403.68">10</text>
<text x="102.9" y="394.53" font-size="10.4">5</text>
<text x="85.1" y="359.75">10</text>
<text x="102.9" y="350.6" font-size="10.4">6</text>
<text x="166.92" y="671.7" text-anchor="middle">1000</text>
<text x="339.56" y="671.7" text-anchor="middle">10000</text>
<text x="252.84" y="695.3" text-anchor="middle">l</text>
<text x="443.56" y="671.7" text-anchor="middle">1000</text>
<text x="616.41" y="671.7" text-anchor="middle">10000</text>
<text x="529.59" y="695.3" text-anchor="middle">l</text>
<text x="720.47" y="671.7" text-anchor="middle">1000</text>
<text x="893.32" y="671.7" text-anchor="middle">10000</text>
<text x="806.5" y="695.3" text-anchor="middle">l</text>
<text x="256.8" y="57.5">250x1380<tspan dx="4.3" font-family="'Liberation Serif', serif" font-style="italic" font-size="18">μ</tspan><tspan dx="1.6">m</tspan></text>
<text x="533.38" y="57.5">350x1380<tspan dx="4.3" font-family="'Liberation Serif', serif" font-style="italic" font-size="18">μ</tspan><tspan dx="1.6">m</tspan></text>
<text x="810.29" y="57.5">500x1380<tspan dx="4.3" font-family="'Liberation Serif', serif" font-style="italic" font-size="18">μ</tspan><tspan dx="1.6">m</tspan></text>
<text x="256.8" y="391.7">250x2030<tspan dx="4.3" font-family="'Liberation Serif', serif" font-style="italic" font-size="18">μ</tspan><tspan dx="1.6">m</tspan></text>
<text x="533.38" y="391.7">350x2030<tspan dx="4.3" font-family="'Liberation Serif', serif" font-style="italic" font-size="18">μ</tspan><tspan dx="1.6">m</tspan></text>
<text x="810.29" y="391.7">500x2030<tspan dx="4.3" font-family="'Liberation Serif', serif" font-style="italic" font-size="18">μ</tspan><tspan dx="1.6">m</tspan></text>
<text transform="translate(67.9 179.93) rotate(-90)" text-anchor="middle" letter-spacing="0.35">Cl [Jy<tspan dy="-9.2" font-size="10.4">2</tspan><tspan dy="9.2">/sr]</tspan></text>
<text transform="translate(67.9 495.08) rotate(-90)" text-anchor="middle" letter-spacing="0.35">Cl [Jy<tspan dy="-9.2" font-size="10.4">2</tspan><tspan dy="9.2">/sr]</tspan></text>
</g>
</svg>
</body></html>
